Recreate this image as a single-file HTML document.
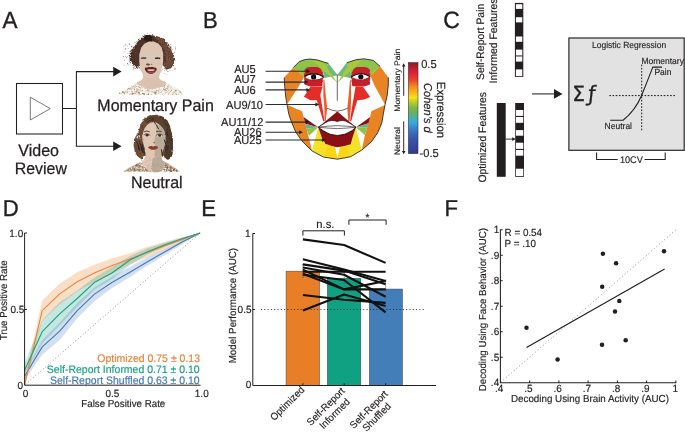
<!DOCTYPE html>
<html lang="en"><head><meta charset="utf-8"><title>Figure</title>
<style>
html,body{margin:0;padding:0;background:#fff;}
body{width:685px;height:432px;overflow:hidden;}
svg{display:block;}
svg text{font-family:"Liberation Sans",Arial,Helvetica,sans-serif;fill:#231f20;stroke:#231f20;stroke-width:0.016em;text-rendering:geometricPrecision;}
</style></head><body>
<svg width="685" height="432" viewBox="0 0 685 432">
<rect width="685" height="432" fill="#fff"/>
<!-- Panel A -->
<g id="panelA">
<text transform="translate(2.4 28.3) scale(1 1.04)" font-size="22.5">A</text>
<rect x="16.5" y="83.5" width="46" height="50.5" fill="#fff" stroke="#231f20" stroke-width="1.05"/>
<path d="M30.3 97.2 L50.3 108.6 L30.3 120 Z" fill="none" stroke="#414042" stroke-width="0.7"/>
<path d="M62.5 108.4 H76.4 M114 71.6 H76.4 V146.2 H114" fill="none" stroke="#231f20" stroke-width="1.05"/>
<path d="M113.2 66.8 L121.6 71.6 L113.2 76.4 Z M113.2 141.4 L121.6 146.2 L113.2 151 Z" fill="#231f20"/>
<text transform="translate(18.3 155.6) scale(1 1.04)" font-size="16">Video</text>
<text transform="translate(14.8 174.2) scale(1 1.04)" font-size="15.9">Review</text>
<text transform="translate(97.3 111) scale(1 1.04)" font-size="16">Momentary Pain</text>
<text transform="translate(131 187.6) scale(1 1.04)" font-size="16">Neutral</text>
</g>
<!-- faces -->
<g id="faces">
<defs>
<filter id="rough" x="-20%" y="-20%" width="140%" height="140%"><feTurbulence type="fractalNoise" baseFrequency="0.7" numOctaves="2" seed="4" result="n"/><feDisplacementMap in="SourceGraphic" in2="n" scale="4.5" xChannelSelector="R" yChannelSelector="G"/></filter>
<filter id="rough2" x="-20%" y="-20%" width="140%" height="140%"><feTurbulence type="fractalNoise" baseFrequency="0.5" numOctaves="2" seed="9" result="n"/><feDisplacementMap in="SourceGraphic" in2="n" scale="2.5" xChannelSelector="R" yChannelSelector="G"/></filter>
</defs>
<g id="painface">
<path d="M119.1 94.7 C119.5 94.1 119.5 93.1 121.1 91.8 C122.7 90.5 124.8 89.5 127.3 88.0 C129.8 86.5 131.3 85.5 133.4 84.4 C135.5 83.3 131.7 82.8 138.0 82.4 C144.3 82.0 158.7 82.0 165.1 82.4 C171.5 82.8 168.0 83.3 170.2 84.4 C172.4 85.5 174.1 86.5 176.3 88.0 C178.5 89.5 180.1 90.5 181.4 91.8 C182.7 93.1 182.4 94.1 182.6 94.7 Z" fill="#f4efe8" filter="url(#rough2)"/>
<g><circle cx="148.0" cy="89.5" r="0.57" fill="#c0a276"/>
<circle cx="148.0" cy="93.1" r="0.32" fill="#9b7a4e"/>
<circle cx="149.5" cy="90.1" r="0.32" fill="#c0a276"/>
<circle cx="138.7" cy="83.7" r="0.53" fill="#7d5c3c"/>
<circle cx="159.5" cy="89.9" r="0.39" fill="#c0a276"/>
<circle cx="160.7" cy="90.2" r="0.31" fill="#a58455"/>
<circle cx="121.8" cy="93.4" r="0.46" fill="#c0a276"/>
<circle cx="140.1" cy="89.9" r="0.32" fill="#b39368"/>
<circle cx="159.8" cy="88.7" r="0.48" fill="#c0a276"/>
<circle cx="160.8" cy="87.6" r="0.44" fill="#a58455"/>
<circle cx="164.1" cy="86.5" r="0.33" fill="#8c6a44"/>
<circle cx="137.9" cy="83.4" r="0.26" fill="#7d5c3c"/>
<circle cx="168.5" cy="85.9" r="0.28" fill="#8c6a44"/>
<circle cx="148.8" cy="88.6" r="0.49" fill="#b39368"/>
<circle cx="147.7" cy="84.9" r="0.51" fill="#b39368"/>
<circle cx="145.9" cy="87.3" r="0.39" fill="#b39368"/>
<circle cx="119.6" cy="93.2" r="0.59" fill="#9b7a4e"/>
<circle cx="138.7" cy="93.5" r="0.32" fill="#c0a276"/>
<circle cx="155.9" cy="83.1" r="0.30" fill="#c0a276"/>
<circle cx="135.8" cy="92.1" r="0.37" fill="#8c6a44"/>
<circle cx="143.9" cy="83.5" r="0.32" fill="#7d5c3c"/>
<circle cx="134.9" cy="90.0" r="0.38" fill="#c0a276"/>
<circle cx="127.6" cy="89.8" r="0.54" fill="#b39368"/>
<circle cx="129.3" cy="93.8" r="0.54" fill="#b39368"/>
<circle cx="165.2" cy="84.5" r="0.47" fill="#9b7a4e"/>
<circle cx="132.0" cy="94.3" r="0.56" fill="#9b7a4e"/>
<circle cx="135.6" cy="91.7" r="0.39" fill="#c0a276"/>
<circle cx="171.4" cy="89.9" r="0.35" fill="#b39368"/>
<circle cx="178.0" cy="94.6" r="0.29" fill="#c0a276"/>
<circle cx="154.8" cy="93.1" r="0.47" fill="#8c6a44"/>
<circle cx="132.9" cy="93.8" r="0.51" fill="#a58455"/>
<circle cx="136.5" cy="88.1" r="0.27" fill="#b39368"/>
<circle cx="137.3" cy="89.1" r="0.59" fill="#a58455"/>
<circle cx="142.4" cy="93.5" r="0.59" fill="#7d5c3c"/>
<circle cx="165.7" cy="89.0" r="0.58" fill="#9b7a4e"/>
<circle cx="176.8" cy="91.2" r="0.59" fill="#a58455"/>
<circle cx="157.2" cy="83.5" r="0.27" fill="#8c6a44"/>
<circle cx="139.6" cy="94.9" r="0.28" fill="#9b7a4e"/>
<circle cx="142.7" cy="83.1" r="0.58" fill="#7d5c3c"/>
<circle cx="163.8" cy="92.3" r="0.57" fill="#8c6a44"/>
<circle cx="124.5" cy="93.1" r="0.58" fill="#a58455"/>
<circle cx="173.9" cy="89.6" r="0.47" fill="#c0a276"/>
<circle cx="145.8" cy="86.7" r="0.58" fill="#7d5c3c"/>
<circle cx="156.1" cy="88.0" r="0.54" fill="#a58455"/>
<circle cx="152.2" cy="88.9" r="0.36" fill="#a58455"/>
<circle cx="149.8" cy="85.4" r="0.49" fill="#c0a276"/>
<circle cx="168.6" cy="90.7" r="0.42" fill="#a58455"/>
<circle cx="142.7" cy="84.4" r="0.46" fill="#9b7a4e"/>
<circle cx="130.3" cy="93.7" r="0.48" fill="#c0a276"/>
<circle cx="150.9" cy="85.6" r="0.39" fill="#8c6a44"/>
<circle cx="132.1" cy="87.9" r="0.53" fill="#b39368"/>
<circle cx="156.2" cy="86.5" r="0.30" fill="#c0a276"/>
<circle cx="141.6" cy="93.6" r="0.26" fill="#a58455"/>
<circle cx="130.2" cy="88.1" r="0.35" fill="#b39368"/>
<circle cx="171.8" cy="87.3" r="0.43" fill="#7d5c3c"/>
<circle cx="139.4" cy="92.9" r="0.59" fill="#c0a276"/>
<circle cx="139.7" cy="92.8" r="0.35" fill="#9b7a4e"/>
<circle cx="155.5" cy="86.4" r="0.53" fill="#a58455"/>
<circle cx="159.9" cy="87.6" r="0.32" fill="#8c6a44"/>
<circle cx="147.7" cy="90.3" r="0.48" fill="#8c6a44"/>
<circle cx="132.1" cy="88.4" r="0.31" fill="#a58455"/>
<circle cx="167.1" cy="89.2" r="0.26" fill="#b39368"/>
<circle cx="136.7" cy="86.8" r="0.49" fill="#9b7a4e"/>
<circle cx="151.0" cy="94.8" r="0.31" fill="#7d5c3c"/>
<circle cx="178.2" cy="91.5" r="0.30" fill="#c0a276"/>
<circle cx="132.0" cy="93.5" r="0.25" fill="#9b7a4e"/>
<circle cx="155.3" cy="93.4" r="0.53" fill="#8c6a44"/>
<circle cx="148.7" cy="90.6" r="0.32" fill="#7d5c3c"/>
<circle cx="174.0" cy="92.4" r="0.57" fill="#a58455"/>
<circle cx="133.0" cy="93.7" r="0.59" fill="#8c6a44"/>
<circle cx="153.3" cy="92.3" r="0.36" fill="#7d5c3c"/>
<circle cx="154.2" cy="92.0" r="0.42" fill="#a58455"/>
<circle cx="133.3" cy="93.3" r="0.40" fill="#a58455"/>
<circle cx="128.9" cy="88.9" r="0.50" fill="#7d5c3c"/>
<circle cx="162.9" cy="94.2" r="0.42" fill="#7d5c3c"/>
<circle cx="152.7" cy="86.2" r="0.51" fill="#7d5c3c"/>
<circle cx="129.9" cy="88.9" r="0.57" fill="#8c6a44"/>
<circle cx="139.2" cy="87.3" r="0.55" fill="#9b7a4e"/>
<circle cx="132.7" cy="93.1" r="0.59" fill="#9b7a4e"/>
<circle cx="136.8" cy="88.7" r="0.39" fill="#a58455"/>
<circle cx="151.2" cy="90.0" r="0.26" fill="#a58455"/>
<circle cx="152.0" cy="87.5" r="0.53" fill="#9b7a4e"/>
<circle cx="130.1" cy="94.0" r="0.41" fill="#c0a276"/>
<circle cx="136.5" cy="88.4" r="0.29" fill="#c0a276"/>
<circle cx="176.2" cy="94.1" r="0.57" fill="#9b7a4e"/>
<circle cx="139.5" cy="85.0" r="0.47" fill="#8c6a44"/>
<circle cx="127.7" cy="92.2" r="0.26" fill="#b39368"/>
<circle cx="137.5" cy="91.5" r="0.34" fill="#c0a276"/>
<circle cx="126.2" cy="91.6" r="0.29" fill="#9b7a4e"/>
<circle cx="158.8" cy="91.4" r="0.50" fill="#c0a276"/>
<circle cx="171.5" cy="90.2" r="0.44" fill="#7d5c3c"/>
<circle cx="153.2" cy="85.3" r="0.33" fill="#9b7a4e"/>
<circle cx="158.0" cy="93.1" r="0.33" fill="#7d5c3c"/>
<circle cx="159.1" cy="86.9" r="0.31" fill="#9b7a4e"/>
<circle cx="139.4" cy="93.9" r="0.33" fill="#b39368"/>
<circle cx="134.6" cy="91.5" r="0.34" fill="#a58455"/>
<circle cx="146.9" cy="94.2" r="0.44" fill="#7d5c3c"/>
<circle cx="132.2" cy="91.0" r="0.57" fill="#8c6a44"/>
<circle cx="167.2" cy="88.8" r="0.49" fill="#b39368"/>
<circle cx="170.1" cy="88.5" r="0.26" fill="#9b7a4e"/>
<circle cx="158.1" cy="93.7" r="0.42" fill="#b39368"/>
<circle cx="172.4" cy="94.8" r="0.57" fill="#a58455"/>
<circle cx="156.0" cy="84.3" r="0.49" fill="#a58455"/>
<circle cx="167.7" cy="86.6" r="0.41" fill="#9b7a4e"/>
<circle cx="141.9" cy="85.2" r="0.38" fill="#7d5c3c"/>
<circle cx="163.7" cy="93.0" r="0.31" fill="#c0a276"/>
<circle cx="142.2" cy="87.1" r="0.57" fill="#9b7a4e"/>
<circle cx="130.0" cy="88.9" r="0.26" fill="#a58455"/>
<circle cx="170.0" cy="91.3" r="0.55" fill="#7d5c3c"/>
<circle cx="131.6" cy="89.8" r="0.37" fill="#8c6a44"/>
<circle cx="137.2" cy="84.0" r="0.51" fill="#b39368"/>
<circle cx="170.8" cy="87.6" r="0.56" fill="#9b7a4e"/>
<circle cx="163.3" cy="92.0" r="0.52" fill="#c0a276"/>
<circle cx="169.7" cy="86.3" r="0.29" fill="#8c6a44"/>
<circle cx="181.9" cy="93.7" r="0.27" fill="#8c6a44"/>
<circle cx="179.0" cy="90.8" r="0.37" fill="#7d5c3c"/>
<circle cx="145.1" cy="84.8" r="0.28" fill="#9b7a4e"/>
<circle cx="163.7" cy="92.0" r="0.59" fill="#a58455"/>
<circle cx="134.5" cy="88.1" r="0.43" fill="#b39368"/>
<circle cx="135.8" cy="86.0" r="0.37" fill="#9b7a4e"/>
<circle cx="151.5" cy="94.5" r="0.45" fill="#a58455"/>
<circle cx="159.7" cy="92.5" r="0.28" fill="#9b7a4e"/>
<circle cx="161.6" cy="94.3" r="0.39" fill="#b39368"/>
<circle cx="143.9" cy="94.5" r="0.55" fill="#9b7a4e"/>
<circle cx="158.0" cy="83.3" r="0.58" fill="#c0a276"/>
<circle cx="137.5" cy="87.5" r="0.36" fill="#9b7a4e"/>
<circle cx="137.6" cy="90.6" r="0.45" fill="#8c6a44"/>
<circle cx="161.3" cy="91.8" r="0.26" fill="#b39368"/>
<circle cx="156.4" cy="90.4" r="0.39" fill="#7d5c3c"/>
<circle cx="144.1" cy="93.6" r="0.51" fill="#a58455"/>
<circle cx="156.2" cy="91.5" r="0.36" fill="#b39368"/>
<circle cx="146.6" cy="88.5" r="0.59" fill="#b39368"/>
<circle cx="170.5" cy="93.8" r="0.30" fill="#b39368"/>
<circle cx="157.5" cy="84.0" r="0.47" fill="#c0a276"/>
<circle cx="127.0" cy="93.2" r="0.37" fill="#b39368"/>
<circle cx="161.6" cy="88.2" r="0.34" fill="#9b7a4e"/>
<circle cx="162.5" cy="87.1" r="0.51" fill="#b39368"/>
<circle cx="179.5" cy="91.6" r="0.33" fill="#a58455"/>
<circle cx="151.2" cy="86.4" r="0.43" fill="#8c6a44"/>
<circle cx="136.9" cy="90.1" r="0.50" fill="#7d5c3c"/>
<circle cx="156.8" cy="90.4" r="0.51" fill="#b39368"/>
<circle cx="160.6" cy="85.0" r="0.49" fill="#7d5c3c"/>
<circle cx="146.3" cy="90.3" r="0.29" fill="#9b7a4e"/>
<circle cx="137.1" cy="91.9" r="0.57" fill="#b39368"/>
<circle cx="154.2" cy="90.4" r="0.38" fill="#c0a276"/>
<circle cx="141.9" cy="86.8" r="0.42" fill="#b39368"/>
<circle cx="127.1" cy="92.5" r="0.47" fill="#b39368"/>
<circle cx="147.5" cy="91.8" r="0.39" fill="#b39368"/>
<circle cx="142.8" cy="90.6" r="0.60" fill="#8c6a44"/>
<circle cx="137.9" cy="91.9" r="0.54" fill="#b39368"/>
<circle cx="146.5" cy="87.1" r="0.28" fill="#8c6a44"/>
<circle cx="155.1" cy="88.6" r="0.49" fill="#8c6a44"/>
<circle cx="139.1" cy="93.8" r="0.46" fill="#7d5c3c"/>
<circle cx="138.7" cy="91.5" r="0.49" fill="#8c6a44"/>
<circle cx="160.9" cy="86.6" r="0.57" fill="#8c6a44"/>
<circle cx="164.2" cy="89.6" r="0.57" fill="#7d5c3c"/>
<circle cx="170.1" cy="86.3" r="0.36" fill="#c0a276"/>
<circle cx="180.4" cy="91.6" r="0.43" fill="#a58455"/>
<circle cx="142.3" cy="87.1" r="0.38" fill="#c0a276"/>
<circle cx="156.4" cy="92.4" r="0.51" fill="#8c6a44"/>
<circle cx="169.7" cy="89.2" r="0.54" fill="#9b7a4e"/>
<circle cx="148.2" cy="93.1" r="0.53" fill="#b39368"/>
<circle cx="152.0" cy="89.3" r="0.45" fill="#a58455"/>
<circle cx="160.5" cy="92.5" r="0.27" fill="#9b7a4e"/>
<circle cx="138.8" cy="89.3" r="0.37" fill="#8c6a44"/>
<circle cx="165.9" cy="93.6" r="0.28" fill="#7d5c3c"/>
<circle cx="160.7" cy="83.8" r="0.54" fill="#c0a276"/>
<circle cx="135.0" cy="85.3" r="0.52" fill="#9b7a4e"/>
<circle cx="140.9" cy="88.2" r="0.37" fill="#8c6a44"/>
<circle cx="161.9" cy="88.7" r="0.44" fill="#7d5c3c"/>
<circle cx="122.5" cy="91.9" r="0.59" fill="#8c6a44"/>
<circle cx="173.2" cy="92.5" r="0.54" fill="#c0a276"/>
<circle cx="152.5" cy="91.3" r="0.53" fill="#c0a276"/>
<circle cx="177.6" cy="93.8" r="0.34" fill="#b39368"/>
<circle cx="146.3" cy="86.2" r="0.59" fill="#a58455"/>
<circle cx="149.2" cy="91.6" r="0.36" fill="#b39368"/>
<circle cx="156.3" cy="93.8" r="0.26" fill="#a58455"/>
<circle cx="132.0" cy="87.0" r="0.46" fill="#9b7a4e"/>
<circle cx="164.7" cy="89.9" r="0.33" fill="#b39368"/>
<circle cx="176.8" cy="94.1" r="0.47" fill="#9b7a4e"/>
<circle cx="149.7" cy="85.8" r="0.56" fill="#8c6a44"/>
<circle cx="161.1" cy="92.1" r="0.28" fill="#b39368"/>
<circle cx="144.7" cy="85.3" r="0.30" fill="#c0a276"/>
<circle cx="180.9" cy="92.4" r="0.52" fill="#a58455"/>
<circle cx="160.9" cy="85.5" r="0.25" fill="#c0a276"/>
<circle cx="135.1" cy="87.8" r="0.56" fill="#c0a276"/>
<circle cx="135.9" cy="93.3" r="0.43" fill="#7d5c3c"/>
<circle cx="166.2" cy="90.2" r="0.43" fill="#a58455"/>
<circle cx="129.1" cy="92.1" r="0.25" fill="#b39368"/>
<circle cx="136.6" cy="91.4" r="0.28" fill="#c0a276"/>
<circle cx="163.2" cy="83.6" r="0.51" fill="#9b7a4e"/>
<circle cx="169.2" cy="87.7" r="0.57" fill="#a58455"/>
<circle cx="168.7" cy="88.0" r="0.26" fill="#c0a276"/>
<circle cx="152.6" cy="84.5" r="0.54" fill="#8c6a44"/>
<circle cx="139.5" cy="87.6" r="0.44" fill="#c0a276"/>
<circle cx="161.5" cy="83.4" r="0.28" fill="#b39368"/>
<circle cx="148.6" cy="94.5" r="0.54" fill="#7d5c3c"/>
<circle cx="147.6" cy="93.2" r="0.50" fill="#c0a276"/>
<circle cx="134.5" cy="89.5" r="0.41" fill="#a58455"/>
<circle cx="173.4" cy="93.0" r="0.50" fill="#9b7a4e"/>
<circle cx="129.2" cy="90.3" r="0.58" fill="#7d5c3c"/>
<circle cx="138.3" cy="86.7" r="0.39" fill="#7d5c3c"/>
<circle cx="143.3" cy="83.9" r="0.36" fill="#8c6a44"/>
<circle cx="155.0" cy="91.5" r="0.37" fill="#c0a276"/>
<circle cx="125.5" cy="90.9" r="0.50" fill="#b39368"/>
<circle cx="148.7" cy="91.2" r="0.29" fill="#a58455"/>
<circle cx="145.2" cy="83.5" r="0.57" fill="#c0a276"/>
<circle cx="163.0" cy="88.5" r="0.57" fill="#9b7a4e"/>
<circle cx="163.6" cy="94.7" r="0.53" fill="#7d5c3c"/>
<circle cx="136.0" cy="84.9" r="0.36" fill="#c0a276"/>
<circle cx="151.6" cy="92.3" r="0.54" fill="#9b7a4e"/>
<circle cx="164.4" cy="85.7" r="0.44" fill="#8c6a44"/>
<circle cx="154.1" cy="86.9" r="0.43" fill="#b39368"/>
<circle cx="155.7" cy="85.0" r="0.58" fill="#7d5c3c"/>
<circle cx="164.0" cy="94.1" r="0.45" fill="#a58455"/>
<circle cx="159.0" cy="85.0" r="0.28" fill="#b39368"/>
<circle cx="149.6" cy="87.7" r="0.37" fill="#a58455"/>
<circle cx="148.7" cy="84.1" r="0.59" fill="#b39368"/>
<circle cx="134.6" cy="89.6" r="0.44" fill="#a58455"/>
<circle cx="154.8" cy="85.8" r="0.57" fill="#8c6a44"/>
<circle cx="157.4" cy="84.1" r="0.54" fill="#8c6a44"/>
<circle cx="162.7" cy="87.1" r="0.52" fill="#8c6a44"/>
<circle cx="154.0" cy="83.5" r="0.26" fill="#b39368"/>
<circle cx="168.8" cy="94.0" r="0.60" fill="#b39368"/>
<circle cx="138.9" cy="90.8" r="0.51" fill="#c0a276"/>
<circle cx="158.3" cy="90.5" r="0.52" fill="#b39368"/>
<circle cx="132.1" cy="88.4" r="0.30" fill="#c0a276"/>
<circle cx="140.7" cy="84.2" r="0.34" fill="#8c6a44"/>
<circle cx="123.0" cy="92.2" r="0.50" fill="#b39368"/>
<circle cx="144.9" cy="88.7" r="0.29" fill="#8c6a44"/>
<circle cx="145.5" cy="90.3" r="0.49" fill="#c0a276"/>
<circle cx="166.8" cy="88.6" r="0.60" fill="#7d5c3c"/>
<circle cx="145.3" cy="87.9" r="0.45" fill="#9b7a4e"/>
<circle cx="140.4" cy="89.0" r="0.40" fill="#a58455"/>
<circle cx="139.8" cy="83.3" r="0.50" fill="#c0a276"/>
<circle cx="165.6" cy="89.9" r="0.51" fill="#8c6a44"/>
<circle cx="175.1" cy="93.4" r="0.34" fill="#c0a276"/>
<circle cx="134.8" cy="93.3" r="0.59" fill="#c0a276"/>
<circle cx="163.3" cy="89.1" r="0.33" fill="#8c6a44"/>
<circle cx="160.9" cy="94.1" r="0.56" fill="#7d5c3c"/>
<circle cx="166.5" cy="89.6" r="0.57" fill="#a58455"/>
<circle cx="152.3" cy="84.2" r="0.56" fill="#9b7a4e"/>
<circle cx="134.9" cy="86.3" r="0.36" fill="#a58455"/>
<circle cx="147.3" cy="88.1" r="0.44" fill="#b39368"/>
<circle cx="142.0" cy="89.8" r="0.27" fill="#a58455"/>
<circle cx="148.2" cy="86.5" r="0.36" fill="#b39368"/>
<circle cx="178.3" cy="94.6" r="0.42" fill="#b39368"/>
<circle cx="132.3" cy="93.2" r="0.49" fill="#a58455"/>
<circle cx="131.9" cy="92.9" r="0.37" fill="#c0a276"/>
<circle cx="163.5" cy="89.5" r="0.44" fill="#b39368"/>
<circle cx="131.6" cy="93.4" r="0.27" fill="#a58455"/>
<circle cx="138.8" cy="92.6" r="0.59" fill="#8c6a44"/>
<circle cx="174.2" cy="91.4" r="0.30" fill="#7d5c3c"/>
<circle cx="179.7" cy="92.2" r="0.40" fill="#b39368"/>
<circle cx="133.6" cy="86.4" r="0.50" fill="#b39368"/>
<circle cx="136.5" cy="91.4" r="0.43" fill="#8c6a44"/>
<circle cx="169.3" cy="87.2" r="0.48" fill="#a58455"/>
<circle cx="156.7" cy="85.4" r="0.36" fill="#b39368"/>
<circle cx="161.5" cy="86.0" r="0.47" fill="#a58455"/>
<circle cx="148.7" cy="83.5" r="0.57" fill="#a58455"/>
<circle cx="153.0" cy="83.2" r="0.46" fill="#8c6a44"/>
<circle cx="153.4" cy="87.8" r="0.45" fill="#b39368"/>
<circle cx="137.5" cy="91.9" r="0.34" fill="#8c6a44"/>
<circle cx="176.0" cy="90.2" r="0.57" fill="#9b7a4e"/>
<circle cx="143.8" cy="94.0" r="0.42" fill="#b39368"/>
<circle cx="123.6" cy="92.1" r="0.57" fill="#8c6a44"/>
<circle cx="161.0" cy="92.2" r="0.43" fill="#9b7a4e"/>
<circle cx="171.6" cy="90.4" r="0.59" fill="#7d5c3c"/>
<circle cx="157.8" cy="85.5" r="0.40" fill="#8c6a44"/>
<circle cx="169.0" cy="92.3" r="0.33" fill="#c0a276"/>
<circle cx="153.8" cy="93.1" r="0.46" fill="#8c6a44"/>
<circle cx="164.5" cy="89.6" r="0.56" fill="#b39368"/>
<circle cx="140.0" cy="90.1" r="0.46" fill="#c0a276"/>
<circle cx="151.3" cy="91.5" r="0.55" fill="#a58455"/>
<circle cx="124.2" cy="93.7" r="0.45" fill="#9b7a4e"/>
<circle cx="156.0" cy="91.5" r="0.47" fill="#a58455"/>
<circle cx="139.1" cy="83.1" r="0.36" fill="#9b7a4e"/>
<circle cx="166.0" cy="92.2" r="0.52" fill="#c0a276"/>
<circle cx="125.2" cy="92.7" r="0.31" fill="#8c6a44"/>
<circle cx="135.2" cy="88.7" r="0.48" fill="#9b7a4e"/>
<circle cx="145.4" cy="87.1" r="0.33" fill="#a58455"/>
<circle cx="127.7" cy="91.9" r="0.46" fill="#b39368"/>
<circle cx="128.7" cy="88.2" r="0.51" fill="#a58455"/>
<circle cx="152.6" cy="83.7" r="0.44" fill="#c0a276"/>
<circle cx="146.3" cy="83.5" r="0.26" fill="#7d5c3c"/>
<circle cx="167.6" cy="91.6" r="0.33" fill="#8c6a44"/>
<circle cx="127.1" cy="93.1" r="0.40" fill="#a58455"/>
<circle cx="140.8" cy="94.7" r="0.46" fill="#a58455"/>
<circle cx="129.7" cy="89.8" r="0.60" fill="#7d5c3c"/>
<circle cx="141.2" cy="91.1" r="0.55" fill="#9b7a4e"/>
<circle cx="173.6" cy="94.1" r="0.32" fill="#c0a276"/>
<circle cx="168.7" cy="85.2" r="0.37" fill="#b39368"/>
<circle cx="169.5" cy="92.5" r="0.42" fill="#c0a276"/>
<circle cx="133.1" cy="88.3" r="0.36" fill="#c0a276"/>
<circle cx="150.4" cy="90.3" r="0.31" fill="#c0a276"/>
<circle cx="132.5" cy="87.3" r="0.28" fill="#7d5c3c"/>
<circle cx="137.0" cy="94.3" r="0.47" fill="#9b7a4e"/>
<circle cx="144.3" cy="93.9" r="0.50" fill="#8c6a44"/>
<circle cx="165.4" cy="92.1" r="0.30" fill="#b39368"/>
<circle cx="165.1" cy="93.7" r="0.26" fill="#8c6a44"/>
<circle cx="172.3" cy="88.1" r="0.55" fill="#c0a276"/>
<circle cx="140.0" cy="92.1" r="0.43" fill="#a58455"/>
<circle cx="138.6" cy="90.1" r="0.42" fill="#b39368"/>
<circle cx="129.1" cy="89.9" r="0.26" fill="#8c6a44"/>
<circle cx="145.4" cy="88.5" r="0.49" fill="#9b7a4e"/>
<circle cx="164.0" cy="85.8" r="0.50" fill="#7d5c3c"/>
<circle cx="143.3" cy="93.4" r="0.54" fill="#9b7a4e"/>
<circle cx="164.4" cy="87.6" r="0.39" fill="#8c6a44"/>
<circle cx="133.8" cy="86.2" r="0.37" fill="#b39368"/>
<circle cx="128.4" cy="93.0" r="0.51" fill="#c0a276"/>
<circle cx="155.2" cy="92.5" r="0.59" fill="#8c6a44"/>
<circle cx="161.1" cy="83.4" r="0.55" fill="#9b7a4e"/>
<circle cx="162.9" cy="90.8" r="0.58" fill="#8c6a44"/>
<circle cx="134.3" cy="90.4" r="0.28" fill="#c0a276"/>
<circle cx="150.4" cy="94.0" r="0.35" fill="#7d5c3c"/>
<circle cx="137.2" cy="84.5" r="0.39" fill="#c0a276"/>
<circle cx="167.9" cy="86.9" r="0.50" fill="#9b7a4e"/>
<circle cx="146.1" cy="84.5" r="0.45" fill="#7d5c3c"/>
<circle cx="177.1" cy="93.7" r="0.29" fill="#a58455"/>
<circle cx="143.3" cy="93.0" r="0.35" fill="#7d5c3c"/>
<circle cx="140.1" cy="85.7" r="0.26" fill="#8c6a44"/>
<circle cx="139.9" cy="87.2" r="0.35" fill="#7d5c3c"/>
<circle cx="175.3" cy="90.5" r="0.38" fill="#8c6a44"/>
<circle cx="155.8" cy="94.2" r="0.52" fill="#7d5c3c"/>
<circle cx="158.1" cy="83.4" r="0.27" fill="#c0a276"/>
<circle cx="128.1" cy="88.8" r="0.36" fill="#8c6a44"/>
<circle cx="157.6" cy="85.9" r="0.34" fill="#b39368"/>
<circle cx="153.8" cy="87.4" r="0.33" fill="#c0a276"/>
<circle cx="173.0" cy="92.0" r="0.28" fill="#9b7a4e"/>
<circle cx="175.2" cy="91.1" r="0.53" fill="#8c6a44"/></g>
<g><circle cx="141.4" cy="93.5" r="0.56" fill="#ffffff"/>
<circle cx="163.3" cy="91.0" r="0.88" fill="#ffffff"/>
<circle cx="129.6" cy="90.2" r="0.65" fill="#fdfbf8"/>
<circle cx="142.8" cy="86.1" r="0.77" fill="#fdfbf8"/>
<circle cx="134.5" cy="85.7" r="0.56" fill="#ffffff"/>
<circle cx="177.3" cy="91.7" r="0.84" fill="#ffffff"/>
<circle cx="171.0" cy="93.5" r="0.56" fill="#fdfbf8"/>
<circle cx="151.8" cy="90.9" r="0.42" fill="#fdfbf8"/>
<circle cx="135.6" cy="88.8" r="0.80" fill="#fdfbf8"/>
<circle cx="135.5" cy="90.4" r="0.58" fill="#fdfbf8"/>
<circle cx="131.1" cy="93.1" r="0.50" fill="#ffffff"/>
<circle cx="155.3" cy="87.8" r="0.75" fill="#fdfbf8"/>
<circle cx="143.3" cy="90.8" r="0.52" fill="#ffffff"/>
<circle cx="163.2" cy="92.3" r="0.86" fill="#fdfbf8"/>
<circle cx="162.8" cy="87.8" r="0.72" fill="#fdfbf8"/>
<circle cx="143.9" cy="90.9" r="0.47" fill="#ffffff"/>
<circle cx="164.4" cy="84.1" r="0.42" fill="#fdfbf8"/>
<circle cx="142.0" cy="89.2" r="0.80" fill="#fdfbf8"/>
<circle cx="153.7" cy="88.5" r="0.59" fill="#fdfbf8"/>
<circle cx="147.2" cy="93.3" r="0.72" fill="#ffffff"/>
<circle cx="144.2" cy="90.2" r="0.78" fill="#fdfbf8"/>
<circle cx="162.0" cy="85.3" r="0.54" fill="#ffffff"/>
<circle cx="147.4" cy="92.8" r="0.68" fill="#fdfbf8"/>
<circle cx="129.1" cy="93.5" r="0.54" fill="#ffffff"/>
<circle cx="136.8" cy="87.5" r="0.56" fill="#ffffff"/>
<circle cx="149.9" cy="87.1" r="0.53" fill="#ffffff"/>
<circle cx="167.4" cy="90.8" r="0.40" fill="#fdfbf8"/>
<circle cx="150.0" cy="94.8" r="0.50" fill="#fdfbf8"/>
<circle cx="150.0" cy="87.7" r="0.80" fill="#fdfbf8"/>
<circle cx="154.6" cy="85.2" r="0.71" fill="#fdfbf8"/>
<circle cx="137.0" cy="94.1" r="0.83" fill="#fdfbf8"/>
<circle cx="155.5" cy="94.2" r="0.42" fill="#ffffff"/>
<circle cx="162.0" cy="85.9" r="0.41" fill="#fdfbf8"/>
<circle cx="142.5" cy="92.0" r="0.53" fill="#ffffff"/>
<circle cx="169.4" cy="91.6" r="0.60" fill="#ffffff"/>
<circle cx="172.4" cy="87.6" r="0.85" fill="#ffffff"/>
<circle cx="139.9" cy="91.5" r="0.65" fill="#fdfbf8"/>
<circle cx="170.6" cy="87.1" r="0.72" fill="#fdfbf8"/>
<circle cx="139.2" cy="83.4" r="0.73" fill="#ffffff"/>
<circle cx="136.2" cy="85.2" r="0.49" fill="#ffffff"/>
<circle cx="166.3" cy="89.3" r="0.74" fill="#ffffff"/>
<circle cx="141.4" cy="84.5" r="0.59" fill="#ffffff"/>
<circle cx="151.2" cy="87.6" r="0.56" fill="#ffffff"/>
<circle cx="156.0" cy="86.6" r="0.64" fill="#ffffff"/>
<circle cx="151.0" cy="92.2" r="0.84" fill="#fdfbf8"/>
<circle cx="177.5" cy="93.4" r="0.79" fill="#ffffff"/>
<circle cx="128.9" cy="90.4" r="0.59" fill="#ffffff"/>
<circle cx="132.9" cy="90.2" r="0.84" fill="#fdfbf8"/>
<circle cx="151.3" cy="89.6" r="0.46" fill="#fdfbf8"/>
<circle cx="147.0" cy="88.3" r="0.82" fill="#ffffff"/>
<circle cx="143.2" cy="89.2" r="0.42" fill="#ffffff"/>
<circle cx="152.8" cy="88.1" r="0.54" fill="#ffffff"/>
<circle cx="157.0" cy="94.0" r="0.48" fill="#fdfbf8"/>
<circle cx="140.2" cy="85.7" r="0.71" fill="#ffffff"/>
<circle cx="165.9" cy="94.8" r="0.60" fill="#ffffff"/>
<circle cx="166.9" cy="93.6" r="0.46" fill="#ffffff"/>
<circle cx="172.4" cy="90.6" r="0.87" fill="#ffffff"/>
<circle cx="169.7" cy="88.9" r="0.90" fill="#ffffff"/>
<circle cx="141.1" cy="89.0" r="0.57" fill="#ffffff"/>
<circle cx="153.3" cy="93.2" r="0.50" fill="#fdfbf8"/>
<circle cx="167.2" cy="93.4" r="0.44" fill="#fdfbf8"/>
<circle cx="173.3" cy="92.1" r="0.67" fill="#ffffff"/>
<circle cx="142.6" cy="83.8" r="0.42" fill="#fdfbf8"/>
<circle cx="137.7" cy="87.7" r="0.71" fill="#ffffff"/>
<circle cx="173.0" cy="90.2" r="0.85" fill="#ffffff"/>
<circle cx="125.1" cy="90.6" r="0.67" fill="#fdfbf8"/>
<circle cx="174.7" cy="91.5" r="0.50" fill="#fdfbf8"/>
<circle cx="143.4" cy="92.6" r="0.75" fill="#fdfbf8"/>
<circle cx="161.0" cy="85.2" r="0.50" fill="#ffffff"/>
<circle cx="130.4" cy="89.7" r="0.42" fill="#fdfbf8"/>
<circle cx="126.9" cy="94.2" r="0.71" fill="#fdfbf8"/>
<circle cx="164.7" cy="93.3" r="0.78" fill="#ffffff"/>
<circle cx="128.8" cy="90.4" r="0.61" fill="#fdfbf8"/>
<circle cx="137.1" cy="84.2" r="0.46" fill="#ffffff"/>
<circle cx="141.4" cy="91.2" r="0.52" fill="#ffffff"/>
<circle cx="137.5" cy="93.3" r="0.54" fill="#ffffff"/>
<circle cx="162.1" cy="88.2" r="0.87" fill="#fdfbf8"/>
<circle cx="132.1" cy="87.7" r="0.51" fill="#ffffff"/>
<circle cx="142.7" cy="86.7" r="0.69" fill="#fdfbf8"/>
<circle cx="138.0" cy="91.1" r="0.74" fill="#ffffff"/>
<circle cx="156.9" cy="93.2" r="0.59" fill="#fdfbf8"/>
<circle cx="141.1" cy="92.7" r="0.83" fill="#ffffff"/>
<circle cx="153.9" cy="83.8" r="0.85" fill="#ffffff"/>
<circle cx="163.4" cy="94.8" r="0.81" fill="#ffffff"/>
<circle cx="161.6" cy="84.5" r="0.44" fill="#ffffff"/>
<circle cx="148.8" cy="86.5" r="0.74" fill="#ffffff"/>
<circle cx="180.6" cy="94.6" r="0.90" fill="#fdfbf8"/>
<circle cx="146.8" cy="85.4" r="0.67" fill="#ffffff"/>
<circle cx="148.6" cy="87.5" r="0.73" fill="#ffffff"/>
<circle cx="152.1" cy="89.8" r="0.65" fill="#ffffff"/>
<circle cx="152.0" cy="83.8" r="0.80" fill="#ffffff"/>
<circle cx="130.1" cy="90.6" r="0.71" fill="#fdfbf8"/>
<circle cx="161.3" cy="94.5" r="0.64" fill="#ffffff"/>
<circle cx="146.8" cy="84.5" r="0.59" fill="#fdfbf8"/>
<circle cx="179.0" cy="93.6" r="0.41" fill="#fdfbf8"/>
<circle cx="145.6" cy="89.5" r="0.89" fill="#ffffff"/>
<circle cx="138.6" cy="88.8" r="0.46" fill="#ffffff"/>
<circle cx="151.8" cy="86.2" r="0.79" fill="#ffffff"/>
<circle cx="156.7" cy="88.3" r="0.89" fill="#fdfbf8"/>
<circle cx="128.2" cy="93.6" r="0.80" fill="#ffffff"/>
<circle cx="128.6" cy="89.5" r="0.49" fill="#ffffff"/>
<circle cx="129.3" cy="92.7" r="0.77" fill="#fdfbf8"/>
<circle cx="129.4" cy="89.1" r="0.41" fill="#ffffff"/>
<circle cx="150.6" cy="93.8" r="0.67" fill="#ffffff"/>
<circle cx="144.1" cy="86.3" r="0.51" fill="#ffffff"/>
<circle cx="160.9" cy="87.8" r="0.85" fill="#ffffff"/>
<circle cx="160.7" cy="93.5" r="0.87" fill="#ffffff"/>
<circle cx="144.4" cy="86.3" r="0.77" fill="#fdfbf8"/>
<circle cx="169.4" cy="87.3" r="0.72" fill="#fdfbf8"/>
<circle cx="147.9" cy="83.2" r="0.82" fill="#ffffff"/></g>
<g filter="url(#rough)"><path d="M144.2 35.7 C146.7 34.1 145.0 34.9 147.3 34.7 C149.6 34.5 148.1 34.7 151.2 35.2 C154.3 35.7 153.0 35.2 156.5 36.2 C160.0 37.2 158.5 36.3 161.7 38.1 C164.9 39.9 163.2 38.5 166.0 41.7 C168.8 44.9 167.7 43.3 170.0 47.7 C172.3 52.1 171.6 50.5 172.9 55.0 C174.2 59.5 174.3 57.4 174.0 61.2 C173.7 65.0 173.8 64.0 172.1 66.5 C170.4 69.0 171.4 68.0 169.0 68.8 C166.6 69.6 167.1 69.9 164.8 68.8 C162.5 67.7 170.2 66.5 162.2 65.4 C154.2 64.3 148.4 64.5 140.8 65.4 C133.2 66.3 141.0 67.5 139.3 68.0 C137.6 68.5 138.2 68.7 135.6 67.0 C133.0 65.3 133.5 66.1 131.5 62.8 C129.5 59.5 129.6 61.1 129.6 57.1 C129.6 53.1 129.5 55.0 131.5 50.8 C133.5 46.6 132.8 48.4 135.6 44.6 C138.4 40.8 136.9 42.4 139.8 39.4 C142.7 36.4 141.7 37.3 144.2 35.7 Z" fill="#50332a"/>
<path d="M154.4 36.5 C155.1 35.2 157.9 36.6 161.7 38.5 C165.5 40.4 163.1 39.1 165.8 42.3 C168.5 45.5 167.5 44.0 169.8 48.2 C172.1 52.4 171.4 50.7 172.6 55.0 C173.8 59.3 173.6 57.6 173.3 61.2 C173.0 64.8 173.2 63.7 171.6 65.9 C170.0 68.1 170.7 67.9 168.4 67.7 C166.1 67.5 165.7 68.9 164.8 65.4 C163.9 61.9 166.1 62.6 165.8 57.1 C165.5 51.6 165.9 53.7 163.8 48.8 C161.7 43.9 162.7 46.6 159.6 42.5 C156.5 38.4 153.7 37.8 154.4 36.5 Z" fill="#6d4b39"/></g>
<path d="M144.2 36.5 C144.8 34.8 145.0 35.4 147.3 35.2 C149.6 35.0 149.5 34.6 151.2 35.8 C152.9 37.0 152.8 37.0 152.3 38.9 C151.8 40.8 152.0 41.0 149.7 41.5 C147.4 42.0 147.3 42.1 145.5 40.4 C143.7 38.7 143.6 38.2 144.2 36.5 Z" fill="#2b1e18" filter="url(#rough2)"/>
<g><circle cx="124.8" cy="51.9" r="0.31" fill="#6e4d38"/>
<circle cx="130.2" cy="59.1" r="0.23" fill="#4a3123"/>
<circle cx="128.2" cy="48.6" r="0.43" fill="#8a6a55"/>
<circle cx="130.8" cy="51.7" r="0.39" fill="#5b3d2b"/>
<circle cx="123.2" cy="56.5" r="0.49" fill="#4a3123"/>
<circle cx="133.2" cy="58.7" r="0.46" fill="#6e4d38"/>
<circle cx="129.5" cy="56.4" r="0.31" fill="#8a6a55"/>
<circle cx="124.4" cy="60.1" r="0.32" fill="#5b3d2b"/>
<circle cx="125.3" cy="56.4" r="0.45" fill="#8a6a55"/>
<circle cx="129.9" cy="51.7" r="0.25" fill="#5b3d2b"/>
<circle cx="124.0" cy="65.1" r="0.45" fill="#4a3123"/>
<circle cx="123.5" cy="46.8" r="0.26" fill="#4a3123"/>
<circle cx="129.8" cy="44.8" r="0.43" fill="#5b3d2b"/>
<circle cx="127.2" cy="45.4" r="0.26" fill="#4a3123"/>
<circle cx="129.8" cy="44.0" r="0.48" fill="#6e4d38"/>
<circle cx="129.2" cy="43.7" r="0.43" fill="#8a6a55"/>
<circle cx="126.6" cy="57.2" r="0.48" fill="#5b3d2b"/>
<circle cx="124.9" cy="45.4" r="0.41" fill="#6e4d38"/>
<circle cx="127.1" cy="53.3" r="0.34" fill="#5b3d2b"/>
<circle cx="127.8" cy="63.2" r="0.42" fill="#5b3d2b"/>
<circle cx="133.1" cy="51.3" r="0.45" fill="#5b3d2b"/>
<circle cx="130.4" cy="52.2" r="0.41" fill="#5b3d2b"/>
<circle cx="132.7" cy="48.2" r="0.34" fill="#6e4d38"/>
<circle cx="131.9" cy="46.2" r="0.46" fill="#8a6a55"/>
<circle cx="127.4" cy="63.2" r="0.48" fill="#6e4d38"/>
<circle cx="130.1" cy="63.8" r="0.36" fill="#8a6a55"/>
<circle cx="128.5" cy="54.1" r="0.37" fill="#6e4d38"/>
<circle cx="131.2" cy="50.6" r="0.22" fill="#6e4d38"/>
<circle cx="129.9" cy="51.8" r="0.44" fill="#8a6a55"/>
<circle cx="127.8" cy="56.4" r="0.35" fill="#6e4d38"/>
<circle cx="128.1" cy="65.0" r="0.31" fill="#8a6a55"/>
<circle cx="125.6" cy="49.3" r="0.42" fill="#5b3d2b"/>
<circle cx="125.8" cy="44.9" r="0.45" fill="#8a6a55"/>
<circle cx="125.7" cy="48.2" r="0.47" fill="#5b3d2b"/>
<circle cx="129.0" cy="64.9" r="0.47" fill="#8a6a55"/>
<circle cx="127.2" cy="46.1" r="0.27" fill="#5b3d2b"/>
<circle cx="130.2" cy="54.5" r="0.26" fill="#4a3123"/>
<circle cx="129.0" cy="55.6" r="0.31" fill="#6e4d38"/>
<circle cx="127.8" cy="64.8" r="0.32" fill="#4a3123"/>
<circle cx="124.1" cy="60.7" r="0.28" fill="#6e4d38"/>
<circle cx="132.1" cy="59.7" r="0.32" fill="#6e4d38"/>
<circle cx="131.1" cy="56.3" r="0.47" fill="#4a3123"/>
<circle cx="130.3" cy="51.5" r="0.49" fill="#4a3123"/>
<circle cx="129.5" cy="61.7" r="0.49" fill="#5b3d2b"/>
<circle cx="125.7" cy="44.0" r="0.37" fill="#4a3123"/></g>
<g><circle cx="174.2" cy="52.5" r="0.38" fill="#7a5540"/>
<circle cx="173.3" cy="52.2" r="0.30" fill="#7a5540"/>
<circle cx="175.5" cy="49.3" r="0.33" fill="#8a6a55"/>
<circle cx="175.0" cy="60.2" r="0.37" fill="#8a6a55"/>
<circle cx="171.8" cy="63.6" r="0.42" fill="#8a6a55"/>
<circle cx="174.7" cy="51.9" r="0.24" fill="#7a5540"/>
<circle cx="174.1" cy="58.6" r="0.35" fill="#8a6a55"/>
<circle cx="172.8" cy="63.1" r="0.48" fill="#8a6a55"/>
<circle cx="172.3" cy="63.0" r="0.47" fill="#6e4d38"/>
<circle cx="175.5" cy="48.3" r="0.48" fill="#8a6a55"/>
<circle cx="174.5" cy="52.9" r="0.22" fill="#8a6a55"/>
<circle cx="175.5" cy="50.3" r="0.32" fill="#7a5540"/>
<circle cx="175.1" cy="47.1" r="0.41" fill="#6e4d38"/>
<circle cx="171.7" cy="55.5" r="0.26" fill="#8a6a55"/>
<circle cx="175.6" cy="69.0" r="0.48" fill="#8a6a55"/>
<circle cx="171.4" cy="58.3" r="0.27" fill="#8a6a55"/>
<circle cx="174.3" cy="60.3" r="0.48" fill="#8a6a55"/>
<circle cx="171.5" cy="49.0" r="0.27" fill="#8a6a55"/>
<circle cx="173.3" cy="59.0" r="0.49" fill="#8a6a55"/>
<circle cx="171.5" cy="67.2" r="0.29" fill="#6e4d38"/>
<circle cx="174.3" cy="68.1" r="0.49" fill="#6e4d38"/>
<circle cx="175.1" cy="68.0" r="0.23" fill="#7a5540"/>
<circle cx="174.8" cy="69.5" r="0.38" fill="#8a6a55"/>
<circle cx="172.5" cy="49.7" r="0.44" fill="#6e4d38"/>
<circle cx="175.5" cy="46.4" r="0.25" fill="#7a5540"/></g>
<g><circle cx="171.6" cy="67.7" r="0.23" fill="#6e4d38"/>
<circle cx="168.5" cy="71.3" r="0.35" fill="#6e4d38"/>
<circle cx="160.6" cy="68.0" r="0.40" fill="#7a5540"/>
<circle cx="170.2" cy="70.5" r="0.30" fill="#7a5540"/>
<circle cx="165.1" cy="74.1" r="0.28" fill="#6e4d38"/>
<circle cx="167.3" cy="71.3" r="0.30" fill="#7a5540"/>
<circle cx="165.8" cy="69.2" r="0.42" fill="#6e4d38"/>
<circle cx="162.9" cy="69.0" r="0.32" fill="#6e4d38"/>
<circle cx="169.6" cy="69.9" r="0.27" fill="#7a5540"/>
<circle cx="167.4" cy="71.7" r="0.35" fill="#6e4d38"/>
<circle cx="162.7" cy="69.2" r="0.29" fill="#7a5540"/>
<circle cx="169.1" cy="69.0" r="0.23" fill="#6e4d38"/>
<circle cx="166.8" cy="68.1" r="0.40" fill="#6e4d38"/>
<circle cx="165.7" cy="67.8" r="0.35" fill="#6e4d38"/>
<circle cx="164.9" cy="70.1" r="0.43" fill="#7a5540"/>
<circle cx="172.1" cy="70.6" r="0.37" fill="#6e4d38"/>
<circle cx="164.5" cy="73.3" r="0.31" fill="#7a5540"/>
<circle cx="167.1" cy="74.4" r="0.24" fill="#6e4d38"/></g>
<g><circle cx="132.9" cy="65.6" r="0.44" fill="#6e4d38"/>
<circle cx="140.1" cy="66.1" r="0.27" fill="#6e4d38"/>
<circle cx="140.5" cy="69.8" r="0.30" fill="#5b3d2b"/>
<circle cx="133.7" cy="68.8" r="0.44" fill="#5b3d2b"/>
<circle cx="134.5" cy="68.7" r="0.27" fill="#6e4d38"/>
<circle cx="135.6" cy="68.8" r="0.43" fill="#5b3d2b"/>
<circle cx="140.3" cy="65.8" r="0.26" fill="#6e4d38"/>
<circle cx="138.1" cy="66.0" r="0.29" fill="#5b3d2b"/>
<circle cx="134.8" cy="67.9" r="0.41" fill="#6e4d38"/>
<circle cx="138.9" cy="67.9" r="0.44" fill="#5b3d2b"/>
<circle cx="137.9" cy="65.5" r="0.43" fill="#5b3d2b"/>
<circle cx="133.8" cy="67.0" r="0.35" fill="#6e4d38"/></g>
<g><circle cx="163.2" cy="63.5" r="0.43" fill="#5b3d2b"/>
<circle cx="165.4" cy="62.1" r="0.39" fill="#4a3123"/>
<circle cx="166.7" cy="50.7" r="0.43" fill="#4a3123"/>
<circle cx="165.5" cy="40.1" r="0.26" fill="#5b3d2b"/>
<circle cx="165.7" cy="48.7" r="0.39" fill="#5b3d2b"/>
<circle cx="164.9" cy="55.6" r="0.38" fill="#94705a"/>
<circle cx="163.3" cy="57.4" r="0.44" fill="#4a3123"/>
<circle cx="171.4" cy="47.2" r="0.42" fill="#94705a"/>
<circle cx="166.9" cy="48.1" r="0.42" fill="#94705a"/>
<circle cx="168.0" cy="60.8" r="0.45" fill="#4a3123"/>
<circle cx="166.5" cy="49.6" r="0.40" fill="#94705a"/>
<circle cx="164.2" cy="39.7" r="0.33" fill="#4a3123"/>
<circle cx="168.9" cy="45.5" r="0.52" fill="#4a3123"/>
<circle cx="171.6" cy="52.1" r="0.39" fill="#5b3d2b"/>
<circle cx="163.5" cy="64.4" r="0.44" fill="#94705a"/>
<circle cx="171.1" cy="57.6" r="0.49" fill="#5b3d2b"/>
<circle cx="169.1" cy="60.9" r="0.30" fill="#94705a"/>
<circle cx="163.7" cy="48.0" r="0.49" fill="#94705a"/>
<circle cx="171.4" cy="56.5" r="0.27" fill="#4a3123"/>
<circle cx="170.3" cy="47.1" r="0.31" fill="#5b3d2b"/>
<circle cx="172.3" cy="55.9" r="0.29" fill="#4a3123"/>
<circle cx="163.4" cy="64.3" r="0.32" fill="#5b3d2b"/>
<circle cx="163.5" cy="65.9" r="0.32" fill="#4a3123"/>
<circle cx="167.0" cy="52.8" r="0.34" fill="#5b3d2b"/>
<circle cx="164.1" cy="54.7" r="0.34" fill="#94705a"/>
<circle cx="168.5" cy="47.7" r="0.33" fill="#94705a"/>
<circle cx="168.2" cy="53.1" r="0.34" fill="#5b3d2b"/>
<circle cx="171.7" cy="56.3" r="0.37" fill="#94705a"/>
<circle cx="163.5" cy="65.0" r="0.43" fill="#94705a"/>
<circle cx="172.6" cy="53.2" r="0.31" fill="#4a3123"/>
<circle cx="165.6" cy="43.5" r="0.54" fill="#5b3d2b"/>
<circle cx="163.5" cy="60.4" r="0.32" fill="#4a3123"/>
<circle cx="166.8" cy="55.6" r="0.26" fill="#4a3123"/>
<circle cx="167.9" cy="58.9" r="0.44" fill="#4a3123"/>
<circle cx="163.2" cy="54.9" r="0.34" fill="#4a3123"/>
<circle cx="169.6" cy="58.6" r="0.42" fill="#94705a"/>
<circle cx="166.5" cy="44.1" r="0.38" fill="#4a3123"/>
<circle cx="165.7" cy="49.9" r="0.34" fill="#4a3123"/>
<circle cx="170.4" cy="51.1" r="0.36" fill="#94705a"/>
<circle cx="165.4" cy="55.2" r="0.55" fill="#94705a"/>
<circle cx="168.3" cy="45.6" r="0.43" fill="#4a3123"/>
<circle cx="170.1" cy="46.8" r="0.54" fill="#94705a"/>
<circle cx="167.4" cy="59.8" r="0.47" fill="#94705a"/>
<circle cx="164.6" cy="53.6" r="0.55" fill="#4a3123"/>
<circle cx="168.1" cy="54.8" r="0.49" fill="#4a3123"/>
<circle cx="164.0" cy="52.3" r="0.30" fill="#94705a"/>
<circle cx="166.5" cy="46.5" r="0.49" fill="#94705a"/>
<circle cx="166.7" cy="41.1" r="0.26" fill="#94705a"/>
<circle cx="164.8" cy="65.1" r="0.36" fill="#4a3123"/>
<circle cx="167.0" cy="57.7" r="0.50" fill="#94705a"/>
<circle cx="167.2" cy="42.5" r="0.42" fill="#4a3123"/>
<circle cx="164.2" cy="49.5" r="0.37" fill="#5b3d2b"/>
<circle cx="165.8" cy="61.8" r="0.43" fill="#4a3123"/>
<circle cx="167.8" cy="45.8" r="0.40" fill="#4a3123"/>
<circle cx="166.5" cy="46.5" r="0.35" fill="#5b3d2b"/>
<circle cx="167.1" cy="47.8" r="0.51" fill="#4a3123"/>
<circle cx="169.8" cy="58.1" r="0.26" fill="#5b3d2b"/>
<circle cx="165.7" cy="42.6" r="0.54" fill="#5b3d2b"/>
<circle cx="165.2" cy="59.8" r="0.39" fill="#5b3d2b"/>
<circle cx="170.3" cy="44.7" r="0.36" fill="#4a3123"/>
<circle cx="163.4" cy="57.1" r="0.51" fill="#4a3123"/>
<circle cx="168.4" cy="57.5" r="0.53" fill="#4a3123"/>
<circle cx="165.3" cy="62.6" r="0.27" fill="#4a3123"/>
<circle cx="165.6" cy="53.9" r="0.26" fill="#4a3123"/>
<circle cx="167.1" cy="47.4" r="0.39" fill="#5b3d2b"/>
<circle cx="171.2" cy="46.8" r="0.25" fill="#5b3d2b"/>
<circle cx="169.8" cy="51.5" r="0.40" fill="#5b3d2b"/>
<circle cx="164.3" cy="63.1" r="0.51" fill="#94705a"/>
<circle cx="167.0" cy="52.4" r="0.37" fill="#94705a"/>
<circle cx="169.8" cy="46.3" r="0.34" fill="#94705a"/>
<circle cx="165.7" cy="46.4" r="0.31" fill="#94705a"/>
<circle cx="167.0" cy="59.3" r="0.39" fill="#94705a"/>
<circle cx="163.5" cy="44.7" r="0.42" fill="#4a3123"/>
<circle cx="172.1" cy="53.6" r="0.40" fill="#5b3d2b"/>
<circle cx="164.1" cy="41.5" r="0.51" fill="#94705a"/>
<circle cx="167.4" cy="59.4" r="0.38" fill="#94705a"/>
<circle cx="165.2" cy="53.7" r="0.27" fill="#4a3123"/>
<circle cx="171.4" cy="56.7" r="0.49" fill="#4a3123"/>
<circle cx="171.2" cy="55.3" r="0.32" fill="#5b3d2b"/>
<circle cx="164.6" cy="41.2" r="0.44" fill="#5b3d2b"/>
<circle cx="167.4" cy="60.6" r="0.44" fill="#4a3123"/>
<circle cx="170.5" cy="56.5" r="0.55" fill="#5b3d2b"/>
<circle cx="170.8" cy="59.2" r="0.35" fill="#4a3123"/>
<circle cx="165.6" cy="64.6" r="0.26" fill="#5b3d2b"/>
<circle cx="166.6" cy="56.0" r="0.36" fill="#5b3d2b"/>
<circle cx="163.4" cy="40.0" r="0.40" fill="#94705a"/>
<circle cx="165.5" cy="54.0" r="0.37" fill="#4a3123"/>
<circle cx="166.4" cy="56.5" r="0.44" fill="#94705a"/>
<circle cx="162.9" cy="62.1" r="0.44" fill="#4a3123"/>
<circle cx="168.2" cy="58.7" r="0.27" fill="#4a3123"/>
<circle cx="170.4" cy="49.0" r="0.28" fill="#4a3123"/>
<circle cx="165.2" cy="44.8" r="0.30" fill="#94705a"/>
<circle cx="166.0" cy="43.1" r="0.30" fill="#94705a"/>
<circle cx="169.9" cy="46.5" r="0.34" fill="#4a3123"/>
<circle cx="166.1" cy="56.0" r="0.51" fill="#5b3d2b"/>
<circle cx="170.2" cy="48.5" r="0.43" fill="#5b3d2b"/>
<circle cx="164.7" cy="42.0" r="0.48" fill="#4a3123"/>
<circle cx="166.6" cy="62.6" r="0.26" fill="#4a3123"/>
<circle cx="172.4" cy="56.3" r="0.27" fill="#4a3123"/>
<circle cx="169.0" cy="43.3" r="0.39" fill="#94705a"/>
<circle cx="171.4" cy="50.2" r="0.35" fill="#94705a"/>
<circle cx="168.6" cy="53.5" r="0.44" fill="#4a3123"/>
<circle cx="166.9" cy="50.2" r="0.50" fill="#4a3123"/>
<circle cx="164.8" cy="57.3" r="0.54" fill="#4a3123"/>
<circle cx="162.7" cy="61.9" r="0.53" fill="#4a3123"/>
<circle cx="164.1" cy="41.9" r="0.43" fill="#5b3d2b"/>
<circle cx="171.1" cy="48.8" r="0.44" fill="#5b3d2b"/>
<circle cx="170.5" cy="53.9" r="0.42" fill="#4a3123"/>
<circle cx="165.9" cy="51.5" r="0.25" fill="#94705a"/>
<circle cx="169.9" cy="51.9" r="0.52" fill="#4a3123"/></g>
<g><circle cx="136.8" cy="41.9" r="0.28" fill="#2f1f17"/>
<circle cx="135.0" cy="42.8" r="0.49" fill="#2f1f17"/>
<circle cx="134.0" cy="51.8" r="0.38" fill="#6e4d38"/>
<circle cx="135.3" cy="63.4" r="0.37" fill="#6e4d38"/>
<circle cx="138.9" cy="61.8" r="0.27" fill="#3a251c"/>
<circle cx="131.0" cy="50.4" r="0.27" fill="#2f1f17"/>
<circle cx="137.5" cy="42.9" r="0.31" fill="#3a251c"/>
<circle cx="136.0" cy="47.8" r="0.34" fill="#3a251c"/>
<circle cx="139.5" cy="40.5" r="0.29" fill="#3a251c"/>
<circle cx="131.2" cy="57.3" r="0.30" fill="#6e4d38"/>
<circle cx="139.2" cy="51.0" r="0.27" fill="#2f1f17"/>
<circle cx="130.9" cy="56.7" r="0.37" fill="#3a251c"/>
<circle cx="140.8" cy="63.2" r="0.29" fill="#6e4d38"/>
<circle cx="133.0" cy="56.5" r="0.27" fill="#3a251c"/>
<circle cx="134.4" cy="58.5" r="0.48" fill="#3a251c"/>
<circle cx="140.6" cy="46.4" r="0.46" fill="#2f1f17"/>
<circle cx="133.5" cy="54.2" r="0.33" fill="#3a251c"/>
<circle cx="137.9" cy="47.0" r="0.31" fill="#2f1f17"/>
<circle cx="135.7" cy="57.8" r="0.43" fill="#6e4d38"/>
<circle cx="131.2" cy="53.2" r="0.31" fill="#3a251c"/>
<circle cx="140.7" cy="52.8" r="0.41" fill="#6e4d38"/>
<circle cx="133.2" cy="55.6" r="0.31" fill="#3a251c"/>
<circle cx="139.2" cy="55.4" r="0.40" fill="#2f1f17"/>
<circle cx="140.3" cy="60.0" r="0.36" fill="#3a251c"/>
<circle cx="138.5" cy="49.8" r="0.35" fill="#6e4d38"/>
<circle cx="132.0" cy="46.7" r="0.37" fill="#2f1f17"/>
<circle cx="138.9" cy="61.5" r="0.35" fill="#2f1f17"/>
<circle cx="131.0" cy="50.0" r="0.39" fill="#3a251c"/>
<circle cx="141.9" cy="48.0" r="0.34" fill="#3a251c"/>
<circle cx="139.2" cy="64.9" r="0.38" fill="#2f1f17"/>
<circle cx="131.5" cy="46.8" r="0.44" fill="#3a251c"/>
<circle cx="139.2" cy="64.0" r="0.45" fill="#6e4d38"/>
<circle cx="140.5" cy="48.1" r="0.37" fill="#3a251c"/>
<circle cx="138.4" cy="60.5" r="0.33" fill="#3a251c"/>
<circle cx="130.6" cy="50.9" r="0.27" fill="#2f1f17"/>
<circle cx="138.0" cy="40.8" r="0.36" fill="#2f1f17"/>
<circle cx="136.5" cy="48.4" r="0.38" fill="#6e4d38"/>
<circle cx="131.5" cy="54.3" r="0.27" fill="#3a251c"/>
<circle cx="132.7" cy="55.8" r="0.32" fill="#6e4d38"/>
<circle cx="137.6" cy="62.8" r="0.49" fill="#6e4d38"/>
<circle cx="138.5" cy="52.2" r="0.44" fill="#2f1f17"/>
<circle cx="131.9" cy="53.4" r="0.47" fill="#2f1f17"/>
<circle cx="139.7" cy="62.8" r="0.40" fill="#6e4d38"/>
<circle cx="135.9" cy="52.1" r="0.39" fill="#6e4d38"/>
<circle cx="138.3" cy="55.7" r="0.28" fill="#6e4d38"/>
<circle cx="140.5" cy="40.4" r="0.39" fill="#3a251c"/>
<circle cx="141.7" cy="45.7" r="0.34" fill="#2f1f17"/>
<circle cx="140.0" cy="55.2" r="0.42" fill="#6e4d38"/>
<circle cx="134.5" cy="56.8" r="0.36" fill="#3a251c"/>
<circle cx="133.6" cy="57.3" r="0.28" fill="#3a251c"/></g>
<path d="M142.1 69.1 C146.2 68.1 155.9 67.8 160.0 69.1 C164.1 70.4 159.8 72.6 159.6 74.7 C159.4 76.8 158.5 76.7 159.1 78.1 C159.7 79.5 160.4 79.5 162.0 80.6 C163.6 81.7 166.3 81.4 166.1 82.8 C165.9 84.2 164.6 85.0 161.0 86.5 C157.4 88.0 155.1 89.2 150.8 89.2 C146.5 89.2 145.8 88.1 142.6 86.7 C139.4 85.3 137.5 84.4 137.0 83.0 C136.5 81.6 139.1 81.9 140.5 80.6 C141.9 79.3 142.7 79.2 143.1 77.5 C143.5 75.8 142.6 75.2 142.4 73.2 C142.2 71.2 138.0 70.1 142.1 69.1 Z" fill="#dbc2b0"/>
<path d="M151.2 41.7 C154.2 41.7 152.9 41.2 155.9 42.5 C158.9 43.8 157.9 42.8 160.1 45.6 C162.3 48.4 161.5 46.6 162.5 50.8 C163.5 55.0 163.2 53.2 163.2 58.1 C163.2 63.0 163.4 60.9 162.5 65.4 C161.6 69.9 162.4 68.0 160.4 71.7 C158.4 75.4 159.6 74.3 156.5 76.4 C153.4 78.5 154.7 77.9 151.2 77.9 C147.7 77.9 149.0 78.5 146.0 76.4 C143.0 74.3 144.1 75.4 142.1 71.7 C140.1 68.0 140.9 69.9 140.0 65.4 C139.1 60.9 139.2 63.0 139.3 58.1 C139.4 53.2 139.1 55.0 140.3 50.8 C141.5 46.6 140.7 48.4 142.9 45.6 C145.1 42.8 144.1 43.8 146.9 42.5 C149.7 41.2 148.2 41.7 151.2 41.7 Z" fill="#dec6b5"/>
<path d="M142.4 54.2 C143.1 53.8 144.9 54.3 147.1 54.8 C149.3 55.3 148.6 56.0 150.7 56.0 C152.8 56.0 152.5 55.2 154.9 54.8 C157.3 54.4 159.7 54.0 159.8 54.6 C159.9 55.2 157.5 55.4 155.4 56.9 C153.3 58.4 153.3 59.1 151.8 60.2 C150.3 61.3 150.7 61.8 149.7 61.2 C148.7 60.6 149.5 59.4 148.1 58.1 C146.7 56.8 146.0 57.2 144.5 56.2 C143.0 55.2 141.7 54.6 142.4 54.2 Z" fill="#d3cbbb"/>
<path d="M141.1 58.3 L143.8 57.8 L146.2 58.2 M154.9 58.3 L157.5 58.0 L160.2 58.5" stroke="#3e322e" stroke-width="1.3" fill="none"/>
<path d="M146.2 64.0 C146.5 63.4 146.6 63.4 147.7 63.4 C148.8 63.4 149.0 63.5 149.6 64.1 C150.2 64.7 150.3 64.8 149.4 65.2 C148.5 65.6 148.0 65.6 146.9 65.2 C145.8 64.8 145.9 64.6 146.2 64.0 Z" fill="#64483c"/>
<path d="M150.8 64.2 C150.9 63.9 151.3 63.8 151.9 63.9 C152.5 64.0 152.6 64.2 152.5 64.5 C152.4 64.8 152.1 65.0 151.5 64.9 C150.9 64.8 150.7 64.5 150.8 64.2 Z" fill="#8a6a5a"/>
<path d="M145.0 68.3 C145.5 67.1 145.4 67.8 147.3 67.4 C149.2 67.0 148.4 67.1 150.8 67.1 C153.2 67.1 152.5 67.0 154.4 67.4 C156.3 67.8 156.0 67.2 156.5 68.4 C157.0 69.6 156.8 69.4 155.8 71.0 C154.8 72.6 155.2 72.1 153.5 73.1 C151.8 74.1 152.6 73.9 150.8 73.9 C149.0 73.9 149.8 74.1 148.1 73.1 C146.4 72.1 146.8 72.6 145.8 71.0 C144.8 69.4 144.5 69.5 145.0 68.3 Z" fill="#65201f"/>
<path d="M147.9 69.5 C148.8 69.0 148.6 69.2 150.8 69.2 C153.0 69.2 153.3 69.1 154.4 69.6 C155.5 70.1 155.2 70.3 154.1 70.8 C153.0 71.3 153.0 71.1 151.0 71.1 C149.0 71.1 149.2 71.3 148.2 70.8 C147.2 70.3 147.0 70.0 147.9 69.5 Z" fill="#cbc3c1"/>
<path d="M147.7 71.7 C148.5 71.2 148.7 71.6 151.0 71.6 C153.3 71.6 153.8 71.2 154.6 71.7 C155.4 72.2 154.6 72.5 153.3 73.2 C152.0 73.9 152.4 73.8 150.8 73.8 C149.2 73.8 149.5 73.9 148.5 73.2 C147.5 72.5 146.9 72.2 147.7 71.7 Z" fill="#94504f"/>
</g>
<g id="neutralface">
<path d="M124.0 171.4 C124.9 170.7 126.0 169.4 128.3 168.0 C130.6 166.6 132.8 165.6 135.4 164.4 C138.0 163.2 135.4 162.7 141.1 162.2 C146.8 161.7 158.3 161.3 164.1 161.9 C169.9 162.5 167.8 163.6 170.2 165.0 C172.6 166.4 174.4 167.5 176.3 168.7 C178.2 169.9 179.2 170.7 179.9 171.2 Z" fill="#cbb59d" filter="url(#rough2)"/>
<g><circle cx="157.3" cy="167.3" r="0.48" fill="#a38262"/>
<circle cx="124.9" cy="171.3" r="0.59" fill="#a38262"/>
<circle cx="159.0" cy="166.5" r="0.52" fill="#a38262"/>
<circle cx="134.4" cy="169.1" r="0.58" fill="#94705a"/>
<circle cx="173.9" cy="170.6" r="0.46" fill="#8f6d50"/>
<circle cx="140.3" cy="170.0" r="0.48" fill="#6a4a33"/>
<circle cx="148.6" cy="166.3" r="0.45" fill="#6a4a33"/>
<circle cx="168.1" cy="166.7" r="0.63" fill="#6a4a33"/>
<circle cx="133.1" cy="166.9" r="0.49" fill="#7a573d"/>
<circle cx="154.8" cy="170.4" r="0.53" fill="#8f6d50"/>
<circle cx="142.0" cy="165.5" r="0.40" fill="#8f6d50"/>
<circle cx="158.5" cy="165.2" r="0.35" fill="#6a4a33"/>
<circle cx="137.3" cy="168.8" r="0.57" fill="#7a573d"/>
<circle cx="135.6" cy="165.6" r="0.45" fill="#7a573d"/>
<circle cx="165.0" cy="164.8" r="0.45" fill="#6a4a33"/>
<circle cx="177.7" cy="170.8" r="0.30" fill="#6a4a33"/>
<circle cx="157.6" cy="171.0" r="0.63" fill="#8f6d50"/>
<circle cx="149.8" cy="170.5" r="0.31" fill="#94705a"/>
<circle cx="161.9" cy="163.9" r="0.61" fill="#94705a"/>
<circle cx="174.6" cy="169.6" r="0.43" fill="#7a573d"/>
<circle cx="157.2" cy="169.7" r="0.31" fill="#8f6d50"/>
<circle cx="146.8" cy="167.6" r="0.44" fill="#a38262"/>
<circle cx="147.3" cy="167.1" r="0.43" fill="#94705a"/>
<circle cx="154.1" cy="165.5" r="0.45" fill="#7a573d"/>
<circle cx="143.1" cy="166.6" r="0.42" fill="#6a4a33"/>
<circle cx="137.7" cy="169.6" r="0.50" fill="#7a573d"/>
<circle cx="144.4" cy="166.2" r="0.47" fill="#7a573d"/>
<circle cx="147.6" cy="165.8" r="0.59" fill="#a38262"/>
<circle cx="139.4" cy="165.7" r="0.64" fill="#8f6d50"/>
<circle cx="161.6" cy="166.3" r="0.48" fill="#94705a"/>
<circle cx="170.4" cy="166.8" r="0.65" fill="#7a573d"/>
<circle cx="170.3" cy="169.8" r="0.48" fill="#94705a"/>
<circle cx="150.7" cy="165.5" r="0.63" fill="#8f6d50"/>
<circle cx="173.7" cy="169.1" r="0.32" fill="#6a4a33"/>
<circle cx="169.5" cy="166.1" r="0.40" fill="#a38262"/>
<circle cx="172.8" cy="169.3" r="0.38" fill="#7a573d"/>
<circle cx="147.1" cy="166.3" r="0.62" fill="#94705a"/>
<circle cx="143.2" cy="163.0" r="0.61" fill="#a38262"/>
<circle cx="139.7" cy="168.3" r="0.32" fill="#6a4a33"/>
<circle cx="145.7" cy="166.8" r="0.47" fill="#8f6d50"/>
<circle cx="157.3" cy="170.8" r="0.62" fill="#94705a"/>
<circle cx="149.8" cy="168.0" r="0.50" fill="#6a4a33"/>
<circle cx="160.6" cy="164.8" r="0.52" fill="#8f6d50"/>
<circle cx="164.7" cy="169.9" r="0.30" fill="#8f6d50"/>
<circle cx="129.1" cy="170.2" r="0.48" fill="#a38262"/>
<circle cx="177.6" cy="171.1" r="0.55" fill="#a38262"/>
<circle cx="174.4" cy="169.2" r="0.63" fill="#94705a"/>
<circle cx="160.9" cy="165.0" r="0.52" fill="#8f6d50"/>
<circle cx="138.8" cy="170.9" r="0.34" fill="#7a573d"/>
<circle cx="176.6" cy="170.7" r="0.59" fill="#6a4a33"/>
<circle cx="155.7" cy="162.7" r="0.55" fill="#7a573d"/>
<circle cx="164.7" cy="166.6" r="0.61" fill="#a38262"/>
<circle cx="142.0" cy="166.1" r="0.30" fill="#7a573d"/>
<circle cx="166.3" cy="165.6" r="0.54" fill="#a38262"/>
<circle cx="150.0" cy="163.9" r="0.45" fill="#94705a"/>
<circle cx="163.8" cy="163.5" r="0.65" fill="#8f6d50"/>
<circle cx="157.0" cy="163.2" r="0.58" fill="#94705a"/>
<circle cx="159.7" cy="165.3" r="0.65" fill="#94705a"/>
<circle cx="157.9" cy="169.6" r="0.64" fill="#a38262"/>
<circle cx="158.3" cy="168.0" r="0.60" fill="#94705a"/>
<circle cx="144.7" cy="162.6" r="0.52" fill="#6a4a33"/>
<circle cx="158.9" cy="171.3" r="0.50" fill="#7a573d"/>
<circle cx="166.9" cy="171.3" r="0.45" fill="#a38262"/>
<circle cx="163.4" cy="167.2" r="0.62" fill="#7a573d"/>
<circle cx="139.7" cy="168.5" r="0.32" fill="#6a4a33"/>
<circle cx="165.4" cy="169.0" r="0.31" fill="#94705a"/>
<circle cx="147.8" cy="169.5" r="0.41" fill="#8f6d50"/>
<circle cx="156.2" cy="164.8" r="0.40" fill="#94705a"/>
<circle cx="141.2" cy="170.4" r="0.39" fill="#a38262"/>
<circle cx="171.4" cy="167.7" r="0.54" fill="#6a4a33"/>
<circle cx="140.3" cy="169.7" r="0.56" fill="#94705a"/>
<circle cx="145.3" cy="165.3" r="0.37" fill="#7a573d"/>
<circle cx="170.6" cy="171.3" r="0.57" fill="#8f6d50"/>
<circle cx="148.7" cy="166.4" r="0.42" fill="#6a4a33"/>
<circle cx="152.6" cy="164.5" r="0.64" fill="#a38262"/>
<circle cx="169.6" cy="168.9" r="0.29" fill="#7a573d"/>
<circle cx="136.6" cy="164.8" r="0.50" fill="#6a4a33"/>
<circle cx="171.0" cy="171.2" r="0.49" fill="#8f6d50"/>
<circle cx="173.3" cy="170.7" r="0.37" fill="#6a4a33"/>
<circle cx="163.9" cy="167.0" r="0.28" fill="#8f6d50"/>
<circle cx="128.0" cy="170.3" r="0.58" fill="#a38262"/>
<circle cx="149.2" cy="164.5" r="0.52" fill="#7a573d"/>
<circle cx="131.1" cy="168.8" r="0.54" fill="#6a4a33"/>
<circle cx="164.0" cy="169.9" r="0.33" fill="#94705a"/>
<circle cx="153.5" cy="164.6" r="0.39" fill="#6a4a33"/>
<circle cx="143.8" cy="169.2" r="0.42" fill="#8f6d50"/>
<circle cx="129.7" cy="171.3" r="0.57" fill="#a38262"/>
<circle cx="158.7" cy="171.0" r="0.39" fill="#8f6d50"/>
<circle cx="156.5" cy="165.9" r="0.48" fill="#6a4a33"/>
<circle cx="141.5" cy="163.8" r="0.44" fill="#a38262"/>
<circle cx="163.1" cy="164.2" r="0.53" fill="#8f6d50"/>
<circle cx="177.6" cy="170.6" r="0.62" fill="#94705a"/>
<circle cx="151.6" cy="169.7" r="0.59" fill="#8f6d50"/>
<circle cx="127.0" cy="170.3" r="0.41" fill="#7a573d"/>
<circle cx="144.4" cy="164.8" r="0.33" fill="#7a573d"/>
<circle cx="146.2" cy="169.4" r="0.28" fill="#94705a"/>
<circle cx="145.2" cy="164.3" r="0.45" fill="#8f6d50"/>
<circle cx="162.7" cy="164.1" r="0.35" fill="#a38262"/>
<circle cx="143.5" cy="170.1" r="0.48" fill="#7a573d"/>
<circle cx="175.8" cy="170.0" r="0.61" fill="#a38262"/>
<circle cx="155.4" cy="171.4" r="0.37" fill="#a38262"/>
<circle cx="129.3" cy="169.6" r="0.50" fill="#a38262"/>
<circle cx="147.5" cy="171.0" r="0.29" fill="#6a4a33"/>
<circle cx="132.0" cy="167.6" r="0.52" fill="#94705a"/>
<circle cx="162.0" cy="169.6" r="0.46" fill="#8f6d50"/>
<circle cx="170.4" cy="169.8" r="0.58" fill="#8f6d50"/>
<circle cx="142.0" cy="163.9" r="0.44" fill="#a38262"/>
<circle cx="150.6" cy="171.3" r="0.39" fill="#a38262"/>
<circle cx="166.7" cy="171.1" r="0.39" fill="#8f6d50"/>
<circle cx="173.0" cy="170.7" r="0.38" fill="#94705a"/>
<circle cx="154.9" cy="171.3" r="0.61" fill="#94705a"/>
<circle cx="152.4" cy="163.4" r="0.49" fill="#7a573d"/>
<circle cx="144.7" cy="171.3" r="0.56" fill="#a38262"/>
<circle cx="169.4" cy="168.9" r="0.60" fill="#a38262"/>
<circle cx="152.3" cy="169.5" r="0.63" fill="#7a573d"/>
<circle cx="155.9" cy="165.8" r="0.33" fill="#a38262"/>
<circle cx="164.1" cy="163.3" r="0.47" fill="#a38262"/>
<circle cx="149.0" cy="168.4" r="0.58" fill="#94705a"/>
<circle cx="156.7" cy="168.1" r="0.51" fill="#7a573d"/>
<circle cx="130.0" cy="169.0" r="0.33" fill="#7a573d"/>
<circle cx="155.3" cy="165.8" r="0.62" fill="#8f6d50"/>
<circle cx="150.4" cy="164.0" r="0.43" fill="#7a573d"/>
<circle cx="168.9" cy="170.2" r="0.34" fill="#7a573d"/>
<circle cx="143.9" cy="165.2" r="0.35" fill="#8f6d50"/>
<circle cx="174.6" cy="169.0" r="0.38" fill="#94705a"/>
<circle cx="155.4" cy="164.5" r="0.35" fill="#8f6d50"/>
<circle cx="138.8" cy="168.1" r="0.39" fill="#7a573d"/>
<circle cx="166.9" cy="167.5" r="0.37" fill="#7a573d"/>
<circle cx="130.2" cy="169.3" r="0.33" fill="#a38262"/>
<circle cx="139.6" cy="165.4" r="0.63" fill="#8f6d50"/>
<circle cx="157.7" cy="170.8" r="0.51" fill="#94705a"/>
<circle cx="158.4" cy="162.9" r="0.50" fill="#6a4a33"/>
<circle cx="138.2" cy="168.0" r="0.60" fill="#8f6d50"/>
<circle cx="161.1" cy="164.3" r="0.32" fill="#8f6d50"/>
<circle cx="171.0" cy="167.1" r="0.47" fill="#94705a"/>
<circle cx="134.1" cy="169.4" r="0.50" fill="#6a4a33"/>
<circle cx="173.2" cy="170.9" r="0.39" fill="#94705a"/>
<circle cx="146.4" cy="170.7" r="0.45" fill="#94705a"/>
<circle cx="139.9" cy="163.9" r="0.35" fill="#7a573d"/>
<circle cx="134.5" cy="168.7" r="0.50" fill="#94705a"/>
<circle cx="168.2" cy="169.4" r="0.45" fill="#8f6d50"/>
<circle cx="140.9" cy="166.4" r="0.53" fill="#8f6d50"/>
<circle cx="139.4" cy="169.1" r="0.36" fill="#6a4a33"/>
<circle cx="145.1" cy="166.1" r="0.55" fill="#94705a"/>
<circle cx="134.8" cy="171.0" r="0.64" fill="#a38262"/>
<circle cx="153.1" cy="165.2" r="0.34" fill="#a38262"/>
<circle cx="157.0" cy="168.8" r="0.51" fill="#a38262"/>
<circle cx="170.5" cy="168.3" r="0.41" fill="#94705a"/>
<circle cx="139.4" cy="170.1" r="0.48" fill="#7a573d"/>
<circle cx="148.1" cy="171.1" r="0.46" fill="#8f6d50"/>
<circle cx="146.1" cy="167.8" r="0.39" fill="#7a573d"/>
<circle cx="163.6" cy="163.6" r="0.47" fill="#6a4a33"/>
<circle cx="129.6" cy="170.1" r="0.28" fill="#8f6d50"/>
<circle cx="159.6" cy="166.3" r="0.34" fill="#6a4a33"/>
<circle cx="144.9" cy="164.7" r="0.57" fill="#94705a"/>
<circle cx="154.2" cy="166.4" r="0.48" fill="#94705a"/>
<circle cx="157.5" cy="165.0" r="0.63" fill="#94705a"/>
<circle cx="162.0" cy="165.2" r="0.47" fill="#94705a"/>
<circle cx="151.4" cy="164.7" r="0.34" fill="#8f6d50"/>
<circle cx="143.8" cy="170.4" r="0.45" fill="#a38262"/>
<circle cx="159.4" cy="170.8" r="0.35" fill="#94705a"/>
<circle cx="143.0" cy="164.4" r="0.54" fill="#a38262"/>
<circle cx="151.9" cy="171.3" r="0.50" fill="#94705a"/>
<circle cx="139.2" cy="170.2" r="0.44" fill="#a38262"/>
<circle cx="147.8" cy="163.3" r="0.62" fill="#a38262"/>
<circle cx="155.4" cy="170.9" r="0.55" fill="#7a573d"/>
<circle cx="144.2" cy="163.1" r="0.47" fill="#6a4a33"/>
<circle cx="149.9" cy="171.0" r="0.40" fill="#7a573d"/>
<circle cx="146.1" cy="166.4" r="0.58" fill="#94705a"/>
<circle cx="160.1" cy="170.0" r="0.50" fill="#7a573d"/>
<circle cx="161.5" cy="164.2" r="0.42" fill="#a38262"/>
<circle cx="164.1" cy="165.9" r="0.44" fill="#8f6d50"/>
<circle cx="135.7" cy="166.6" r="0.58" fill="#6a4a33"/>
<circle cx="158.3" cy="162.5" r="0.40" fill="#a38262"/>
<circle cx="162.3" cy="164.1" r="0.53" fill="#94705a"/>
<circle cx="139.1" cy="170.3" r="0.29" fill="#8f6d50"/>
<circle cx="152.6" cy="163.7" r="0.31" fill="#7a573d"/>
<circle cx="173.5" cy="169.5" r="0.50" fill="#6a4a33"/>
<circle cx="132.8" cy="168.4" r="0.65" fill="#94705a"/>
<circle cx="137.4" cy="168.7" r="0.35" fill="#a38262"/>
<circle cx="134.8" cy="167.3" r="0.39" fill="#6a4a33"/>
<circle cx="148.4" cy="169.7" r="0.63" fill="#a38262"/>
<circle cx="146.9" cy="169.3" r="0.40" fill="#a38262"/>
<circle cx="142.0" cy="166.9" r="0.41" fill="#a38262"/>
<circle cx="136.7" cy="165.3" r="0.57" fill="#6a4a33"/>
<circle cx="152.7" cy="163.4" r="0.55" fill="#6a4a33"/>
<circle cx="142.2" cy="166.9" r="0.54" fill="#94705a"/>
<circle cx="148.0" cy="169.4" r="0.48" fill="#7a573d"/>
<circle cx="151.6" cy="167.7" r="0.56" fill="#a38262"/>
<circle cx="165.1" cy="163.5" r="0.51" fill="#7a573d"/>
<circle cx="146.3" cy="170.0" r="0.56" fill="#8f6d50"/>
<circle cx="174.3" cy="171.1" r="0.42" fill="#7a573d"/>
<circle cx="166.5" cy="166.7" r="0.34" fill="#94705a"/>
<circle cx="137.5" cy="169.3" r="0.56" fill="#8f6d50"/>
<circle cx="155.9" cy="163.7" r="0.47" fill="#8f6d50"/>
<circle cx="153.4" cy="167.6" r="0.45" fill="#94705a"/>
<circle cx="156.3" cy="166.5" r="0.45" fill="#94705a"/>
<circle cx="144.7" cy="163.9" r="0.31" fill="#94705a"/>
<circle cx="153.6" cy="167.5" r="0.31" fill="#6a4a33"/>
<circle cx="138.3" cy="167.8" r="0.48" fill="#94705a"/>
<circle cx="144.0" cy="170.5" r="0.34" fill="#7a573d"/>
<circle cx="141.9" cy="166.2" r="0.44" fill="#7a573d"/>
<circle cx="166.7" cy="169.6" r="0.55" fill="#a38262"/>
<circle cx="149.2" cy="166.2" r="0.52" fill="#6a4a33"/>
<circle cx="137.4" cy="169.5" r="0.44" fill="#6a4a33"/>
<circle cx="150.7" cy="170.9" r="0.33" fill="#7a573d"/>
<circle cx="169.7" cy="169.8" r="0.35" fill="#94705a"/>
<circle cx="174.1" cy="169.1" r="0.36" fill="#6a4a33"/>
<circle cx="161.1" cy="163.3" r="0.37" fill="#7a573d"/>
<circle cx="160.6" cy="167.5" r="0.46" fill="#a38262"/>
<circle cx="164.2" cy="167.3" r="0.60" fill="#8f6d50"/>
<circle cx="153.2" cy="169.0" r="0.30" fill="#6a4a33"/>
<circle cx="161.8" cy="162.4" r="0.63" fill="#a38262"/>
<circle cx="137.2" cy="170.2" r="0.47" fill="#8f6d50"/>
<circle cx="171.4" cy="167.2" r="0.37" fill="#a38262"/>
<circle cx="154.9" cy="165.9" r="0.56" fill="#8f6d50"/>
<circle cx="153.4" cy="168.9" r="0.43" fill="#8f6d50"/>
<circle cx="158.0" cy="168.2" r="0.39" fill="#6a4a33"/>
<circle cx="165.4" cy="168.7" r="0.35" fill="#a38262"/>
<circle cx="162.1" cy="163.7" r="0.55" fill="#8f6d50"/>
<circle cx="141.2" cy="165.5" r="0.37" fill="#6a4a33"/>
<circle cx="144.5" cy="163.5" r="0.43" fill="#7a573d"/>
<circle cx="140.6" cy="169.4" r="0.38" fill="#8f6d50"/>
<circle cx="148.1" cy="171.2" r="0.61" fill="#a38262"/>
<circle cx="170.7" cy="170.6" r="0.62" fill="#a38262"/>
<circle cx="133.9" cy="166.3" r="0.29" fill="#94705a"/>
<circle cx="142.6" cy="167.8" r="0.28" fill="#a38262"/>
<circle cx="151.2" cy="169.9" r="0.51" fill="#8f6d50"/>
<circle cx="162.3" cy="163.5" r="0.49" fill="#a38262"/>
<circle cx="138.0" cy="167.0" r="0.60" fill="#6a4a33"/>
<circle cx="143.8" cy="164.3" r="0.48" fill="#7a573d"/>
<circle cx="169.8" cy="167.9" r="0.57" fill="#7a573d"/>
<circle cx="158.7" cy="167.9" r="0.42" fill="#8f6d50"/>
<circle cx="153.4" cy="169.1" r="0.34" fill="#7a573d"/>
<circle cx="153.8" cy="168.4" r="0.34" fill="#a38262"/>
<circle cx="167.6" cy="166.8" r="0.47" fill="#6a4a33"/>
<circle cx="140.1" cy="168.5" r="0.29" fill="#8f6d50"/>
<circle cx="148.3" cy="167.1" r="0.34" fill="#7a573d"/>
<circle cx="149.6" cy="170.0" r="0.38" fill="#a38262"/>
<circle cx="154.5" cy="168.9" r="0.50" fill="#a38262"/>
<circle cx="130.4" cy="170.8" r="0.45" fill="#94705a"/>
<circle cx="130.9" cy="169.2" r="0.46" fill="#6a4a33"/>
<circle cx="137.8" cy="165.0" r="0.56" fill="#6a4a33"/>
<circle cx="177.3" cy="170.3" r="0.48" fill="#7a573d"/>
<circle cx="154.2" cy="168.4" r="0.32" fill="#a38262"/>
<circle cx="168.2" cy="167.9" r="0.32" fill="#6a4a33"/>
<circle cx="149.3" cy="168.3" r="0.58" fill="#a38262"/>
<circle cx="148.1" cy="166.9" r="0.30" fill="#8f6d50"/>
<circle cx="165.2" cy="167.9" r="0.64" fill="#94705a"/>
<circle cx="142.8" cy="166.8" r="0.47" fill="#a38262"/>
<circle cx="145.5" cy="169.1" r="0.45" fill="#a38262"/>
<circle cx="134.0" cy="170.5" r="0.54" fill="#8f6d50"/>
<circle cx="162.5" cy="162.7" r="0.52" fill="#94705a"/>
<circle cx="167.6" cy="164.7" r="0.30" fill="#8f6d50"/>
<circle cx="142.0" cy="170.6" r="0.46" fill="#7a573d"/>
<circle cx="170.8" cy="168.7" r="0.42" fill="#8f6d50"/>
<circle cx="150.6" cy="163.0" r="0.60" fill="#8f6d50"/>
<circle cx="149.9" cy="163.5" r="0.38" fill="#8f6d50"/>
<circle cx="136.3" cy="168.9" r="0.53" fill="#a38262"/>
<circle cx="154.4" cy="171.1" r="0.54" fill="#6a4a33"/>
<circle cx="162.0" cy="163.7" r="0.56" fill="#6a4a33"/>
<circle cx="164.6" cy="167.3" r="0.51" fill="#a38262"/>
<circle cx="147.3" cy="170.0" r="0.51" fill="#8f6d50"/>
<circle cx="138.8" cy="169.2" r="0.60" fill="#a38262"/>
<circle cx="163.0" cy="163.9" r="0.56" fill="#7a573d"/>
<circle cx="170.2" cy="170.8" r="0.64" fill="#7a573d"/>
<circle cx="165.1" cy="165.5" r="0.36" fill="#a38262"/>
<circle cx="171.4" cy="171.1" r="0.62" fill="#94705a"/>
<circle cx="169.3" cy="167.4" r="0.56" fill="#94705a"/>
<circle cx="170.2" cy="169.1" r="0.47" fill="#7a573d"/>
<circle cx="150.0" cy="166.2" r="0.52" fill="#6a4a33"/>
<circle cx="156.8" cy="170.8" r="0.38" fill="#a38262"/>
<circle cx="158.6" cy="171.0" r="0.49" fill="#94705a"/>
<circle cx="161.2" cy="166.1" r="0.36" fill="#6a4a33"/>
<circle cx="177.8" cy="170.6" r="0.39" fill="#7a573d"/>
<circle cx="142.2" cy="162.5" r="0.57" fill="#8f6d50"/>
<circle cx="140.1" cy="166.3" r="0.39" fill="#8f6d50"/>
<circle cx="159.2" cy="165.4" r="0.44" fill="#8f6d50"/>
<circle cx="157.8" cy="167.1" r="0.31" fill="#94705a"/>
<circle cx="148.7" cy="162.8" r="0.33" fill="#94705a"/>
<circle cx="144.8" cy="167.5" r="0.53" fill="#6a4a33"/>
<circle cx="135.2" cy="166.1" r="0.42" fill="#8f6d50"/>
<circle cx="145.3" cy="167.9" r="0.51" fill="#6a4a33"/>
<circle cx="168.0" cy="165.4" r="0.38" fill="#8f6d50"/>
<circle cx="145.9" cy="170.7" r="0.58" fill="#94705a"/>
<circle cx="151.6" cy="165.5" r="0.65" fill="#8f6d50"/>
<circle cx="130.8" cy="170.2" r="0.39" fill="#7a573d"/>
<circle cx="148.3" cy="164.9" r="0.49" fill="#8f6d50"/>
<circle cx="149.5" cy="171.1" r="0.31" fill="#a38262"/>
<circle cx="176.7" cy="171.3" r="0.32" fill="#94705a"/>
<circle cx="129.4" cy="169.4" r="0.63" fill="#94705a"/>
<circle cx="144.2" cy="164.7" r="0.33" fill="#7a573d"/>
<circle cx="167.5" cy="168.0" r="0.49" fill="#8f6d50"/>
<circle cx="157.4" cy="167.5" r="0.43" fill="#a38262"/>
<circle cx="140.5" cy="171.0" r="0.30" fill="#7a573d"/>
<circle cx="157.2" cy="167.5" r="0.43" fill="#6a4a33"/>
<circle cx="167.8" cy="167.2" r="0.63" fill="#7a573d"/>
<circle cx="157.6" cy="169.7" r="0.31" fill="#a38262"/>
<circle cx="159.0" cy="162.5" r="0.50" fill="#a38262"/>
<circle cx="135.5" cy="166.3" r="0.29" fill="#94705a"/>
<circle cx="144.2" cy="165.0" r="0.43" fill="#94705a"/>
<circle cx="156.7" cy="166.6" r="0.57" fill="#a38262"/>
<circle cx="163.1" cy="162.5" r="0.59" fill="#a38262"/>
<circle cx="159.9" cy="166.0" r="0.54" fill="#7a573d"/>
<circle cx="159.5" cy="163.7" r="0.51" fill="#a38262"/>
<circle cx="134.5" cy="167.1" r="0.52" fill="#8f6d50"/>
<circle cx="135.2" cy="167.6" r="0.48" fill="#8f6d50"/>
<circle cx="172.2" cy="169.6" r="0.60" fill="#8f6d50"/>
<circle cx="167.9" cy="168.4" r="0.49" fill="#94705a"/>
<circle cx="158.9" cy="167.2" r="0.37" fill="#8f6d50"/>
<circle cx="151.2" cy="164.4" r="0.39" fill="#a38262"/>
<circle cx="129.4" cy="170.2" r="0.63" fill="#8f6d50"/>
<circle cx="149.4" cy="166.7" r="0.50" fill="#a38262"/>
<circle cx="145.7" cy="165.4" r="0.39" fill="#7a573d"/>
<circle cx="170.5" cy="166.5" r="0.28" fill="#94705a"/>
<circle cx="151.0" cy="164.2" r="0.62" fill="#8f6d50"/>
<circle cx="152.0" cy="169.5" r="0.41" fill="#6a4a33"/>
<circle cx="167.2" cy="165.3" r="0.55" fill="#6a4a33"/>
<circle cx="168.8" cy="169.6" r="0.44" fill="#6a4a33"/>
<circle cx="164.0" cy="164.4" r="0.46" fill="#7a573d"/>
<circle cx="157.4" cy="170.5" r="0.55" fill="#a38262"/>
<circle cx="165.2" cy="168.5" r="0.62" fill="#94705a"/>
<circle cx="169.1" cy="170.7" r="0.45" fill="#6a4a33"/>
<circle cx="135.1" cy="166.7" r="0.40" fill="#6a4a33"/>
<circle cx="136.1" cy="167.8" r="0.43" fill="#a38262"/>
<circle cx="143.6" cy="170.8" r="0.42" fill="#6a4a33"/>
<circle cx="158.2" cy="167.8" r="0.47" fill="#94705a"/>
<circle cx="139.0" cy="168.5" r="0.62" fill="#6a4a33"/>
<circle cx="169.2" cy="168.3" r="0.58" fill="#7a573d"/>
<circle cx="145.3" cy="167.6" r="0.57" fill="#94705a"/>
<circle cx="151.2" cy="170.4" r="0.55" fill="#94705a"/>
<circle cx="172.6" cy="168.2" r="0.51" fill="#7a573d"/>
<circle cx="158.3" cy="169.1" r="0.39" fill="#6a4a33"/>
<circle cx="141.4" cy="163.4" r="0.34" fill="#94705a"/>
<circle cx="165.1" cy="171.0" r="0.55" fill="#6a4a33"/>
<circle cx="141.1" cy="171.0" r="0.39" fill="#94705a"/>
<circle cx="158.1" cy="165.5" r="0.30" fill="#a38262"/>
<circle cx="162.2" cy="169.7" r="0.33" fill="#94705a"/>
<circle cx="129.5" cy="169.0" r="0.48" fill="#94705a"/>
<circle cx="165.0" cy="165.2" r="0.46" fill="#94705a"/>
<circle cx="159.7" cy="171.0" r="0.34" fill="#8f6d50"/>
<circle cx="137.8" cy="164.8" r="0.48" fill="#94705a"/>
<circle cx="135.6" cy="167.5" r="0.55" fill="#7a573d"/>
<circle cx="134.7" cy="170.7" r="0.49" fill="#94705a"/>
<circle cx="158.4" cy="165.4" r="0.59" fill="#94705a"/>
<circle cx="171.4" cy="169.9" r="0.34" fill="#8f6d50"/>
<circle cx="179.0" cy="171.0" r="0.29" fill="#6a4a33"/>
<circle cx="160.0" cy="165.9" r="0.49" fill="#7a573d"/>
<circle cx="139.4" cy="166.9" r="0.30" fill="#7a573d"/>
<circle cx="127.8" cy="170.5" r="0.47" fill="#a38262"/>
<circle cx="160.5" cy="170.7" r="0.40" fill="#6a4a33"/>
<circle cx="152.2" cy="164.2" r="0.57" fill="#7a573d"/>
<circle cx="147.7" cy="169.9" r="0.44" fill="#8f6d50"/>
<circle cx="150.5" cy="167.5" r="0.37" fill="#a38262"/>
<circle cx="149.1" cy="164.4" r="0.55" fill="#8f6d50"/>
<circle cx="138.5" cy="164.7" r="0.41" fill="#8f6d50"/>
<circle cx="143.5" cy="165.6" r="0.36" fill="#6a4a33"/>
<circle cx="161.9" cy="169.1" r="0.34" fill="#7a573d"/>
<circle cx="141.8" cy="166.8" r="0.59" fill="#7a573d"/>
<circle cx="143.1" cy="166.0" r="0.28" fill="#6a4a33"/>
<circle cx="155.9" cy="165.9" r="0.30" fill="#94705a"/>
<circle cx="148.7" cy="164.1" r="0.37" fill="#8f6d50"/>
<circle cx="163.8" cy="168.9" r="0.41" fill="#94705a"/>
<circle cx="159.5" cy="164.1" r="0.30" fill="#94705a"/>
<circle cx="134.5" cy="167.9" r="0.47" fill="#7a573d"/>
<circle cx="165.2" cy="168.2" r="0.29" fill="#6a4a33"/>
<circle cx="141.9" cy="169.0" r="0.46" fill="#7a573d"/>
<circle cx="153.5" cy="170.6" r="0.59" fill="#a38262"/>
<circle cx="158.2" cy="164.3" r="0.62" fill="#6a4a33"/>
<circle cx="164.7" cy="169.4" r="0.51" fill="#a38262"/>
<circle cx="169.4" cy="166.5" r="0.30" fill="#6a4a33"/>
<circle cx="166.5" cy="170.2" r="0.61" fill="#a38262"/>
<circle cx="148.1" cy="167.4" r="0.33" fill="#a38262"/>
<circle cx="168.4" cy="166.1" r="0.60" fill="#94705a"/>
<circle cx="129.0" cy="170.6" r="0.48" fill="#8f6d50"/>
<circle cx="144.2" cy="167.5" r="0.35" fill="#a38262"/>
<circle cx="172.9" cy="171.0" r="0.41" fill="#a38262"/>
<circle cx="164.1" cy="167.3" r="0.42" fill="#6a4a33"/>
<circle cx="145.0" cy="165.4" r="0.36" fill="#7a573d"/>
<circle cx="141.7" cy="163.4" r="0.31" fill="#6a4a33"/>
<circle cx="167.4" cy="168.7" r="0.40" fill="#a38262"/>
<circle cx="145.5" cy="169.1" r="0.40" fill="#7a573d"/>
<circle cx="147.0" cy="164.7" r="0.46" fill="#94705a"/>
<circle cx="171.3" cy="171.2" r="0.55" fill="#7a573d"/>
<circle cx="165.9" cy="170.6" r="0.33" fill="#7a573d"/>
<circle cx="154.1" cy="165.2" r="0.63" fill="#8f6d50"/>
<circle cx="148.2" cy="163.5" r="0.30" fill="#6a4a33"/>
<circle cx="158.2" cy="166.6" r="0.47" fill="#a38262"/>
<circle cx="139.1" cy="167.5" r="0.54" fill="#a38262"/>
<circle cx="168.1" cy="165.0" r="0.40" fill="#a38262"/>
<circle cx="163.7" cy="166.7" r="0.60" fill="#6a4a33"/>
<circle cx="155.1" cy="168.7" r="0.41" fill="#8f6d50"/>
<circle cx="144.1" cy="167.9" r="0.32" fill="#6a4a33"/>
<circle cx="165.6" cy="168.1" r="0.42" fill="#6a4a33"/>
<circle cx="170.1" cy="167.2" r="0.64" fill="#7a573d"/>
<circle cx="130.2" cy="170.5" r="0.54" fill="#a38262"/>
<circle cx="166.9" cy="167.5" r="0.60" fill="#6a4a33"/>
<circle cx="158.4" cy="162.8" r="0.42" fill="#94705a"/>
<circle cx="159.7" cy="167.9" r="0.41" fill="#7a573d"/>
<circle cx="157.5" cy="170.8" r="0.41" fill="#6a4a33"/>
<circle cx="144.9" cy="170.6" r="0.45" fill="#8f6d50"/>
<circle cx="144.7" cy="171.1" r="0.29" fill="#6a4a33"/>
<circle cx="163.8" cy="169.7" r="0.33" fill="#94705a"/>
<circle cx="158.8" cy="165.7" r="0.38" fill="#6a4a33"/>
<circle cx="174.8" cy="170.0" r="0.40" fill="#a38262"/>
<circle cx="161.3" cy="169.0" r="0.36" fill="#94705a"/>
<circle cx="168.7" cy="169.8" r="0.45" fill="#7a573d"/>
<circle cx="143.6" cy="166.5" r="0.36" fill="#7a573d"/>
<circle cx="137.0" cy="168.0" r="0.56" fill="#94705a"/>
<circle cx="135.7" cy="170.3" r="0.29" fill="#8f6d50"/>
<circle cx="149.4" cy="165.7" r="0.57" fill="#94705a"/>
<circle cx="164.8" cy="170.8" r="0.61" fill="#94705a"/>
<circle cx="167.7" cy="168.6" r="0.44" fill="#94705a"/>
<circle cx="160.3" cy="168.9" r="0.39" fill="#a38262"/>
<circle cx="175.8" cy="169.1" r="0.36" fill="#7a573d"/>
<circle cx="148.9" cy="162.8" r="0.31" fill="#7a573d"/>
<circle cx="141.3" cy="164.0" r="0.52" fill="#7a573d"/>
<circle cx="140.4" cy="165.8" r="0.57" fill="#a38262"/>
<circle cx="153.7" cy="169.0" r="0.58" fill="#94705a"/>
<circle cx="163.2" cy="162.6" r="0.64" fill="#6a4a33"/>
<circle cx="163.4" cy="169.7" r="0.35" fill="#6a4a33"/>
<circle cx="160.7" cy="167.9" r="0.34" fill="#8f6d50"/>
<circle cx="151.8" cy="168.1" r="0.29" fill="#a38262"/>
<circle cx="163.0" cy="167.2" r="0.62" fill="#a38262"/>
<circle cx="159.9" cy="169.5" r="0.62" fill="#7a573d"/>
<circle cx="142.2" cy="170.6" r="0.29" fill="#7a573d"/>
<circle cx="157.0" cy="165.9" r="0.30" fill="#a38262"/>
<circle cx="151.7" cy="169.5" r="0.29" fill="#8f6d50"/>
<circle cx="150.5" cy="163.1" r="0.51" fill="#7a573d"/>
<circle cx="165.3" cy="165.4" r="0.56" fill="#7a573d"/>
<circle cx="161.4" cy="164.4" r="0.45" fill="#6a4a33"/>
<circle cx="146.7" cy="166.9" r="0.59" fill="#a38262"/>
<circle cx="139.6" cy="170.9" r="0.42" fill="#a38262"/>
<circle cx="144.9" cy="169.0" r="0.47" fill="#94705a"/>
<circle cx="152.1" cy="168.0" r="0.53" fill="#8f6d50"/>
<circle cx="154.3" cy="167.5" r="0.61" fill="#6a4a33"/>
<circle cx="140.8" cy="170.4" r="0.37" fill="#8f6d50"/>
<circle cx="152.2" cy="163.2" r="0.42" fill="#7a573d"/>
<circle cx="166.9" cy="165.8" r="0.40" fill="#7a573d"/>
<circle cx="161.9" cy="166.8" r="0.43" fill="#a38262"/>
<circle cx="135.9" cy="167.1" r="0.59" fill="#8f6d50"/>
<circle cx="150.0" cy="169.2" r="0.64" fill="#94705a"/>
<circle cx="143.9" cy="163.3" r="0.50" fill="#a38262"/>
<circle cx="135.5" cy="165.6" r="0.50" fill="#6a4a33"/>
<circle cx="152.4" cy="167.4" r="0.38" fill="#a38262"/>
<circle cx="142.4" cy="167.4" r="0.52" fill="#94705a"/>
<circle cx="150.0" cy="169.1" r="0.29" fill="#94705a"/>
<circle cx="165.7" cy="167.2" r="0.38" fill="#8f6d50"/>
<circle cx="143.5" cy="166.0" r="0.54" fill="#7a573d"/>
<circle cx="171.4" cy="169.7" r="0.51" fill="#94705a"/>
<circle cx="161.6" cy="170.6" r="0.31" fill="#6a4a33"/>
<circle cx="170.3" cy="167.2" r="0.64" fill="#94705a"/>
<circle cx="141.9" cy="167.4" r="0.41" fill="#8f6d50"/>
<circle cx="166.9" cy="170.1" r="0.46" fill="#94705a"/>
<circle cx="165.4" cy="166.0" r="0.54" fill="#94705a"/>
<circle cx="153.9" cy="165.8" r="0.39" fill="#6a4a33"/>
<circle cx="151.0" cy="165.6" r="0.54" fill="#7a573d"/>
<circle cx="140.0" cy="168.1" r="0.34" fill="#6a4a33"/>
<circle cx="149.5" cy="169.2" r="0.42" fill="#7a573d"/>
<circle cx="160.1" cy="169.2" r="0.42" fill="#a38262"/>
<circle cx="160.1" cy="166.9" r="0.54" fill="#94705a"/>
<circle cx="148.7" cy="164.7" r="0.31" fill="#94705a"/>
<circle cx="139.2" cy="171.0" r="0.35" fill="#a38262"/>
<circle cx="167.2" cy="168.8" r="0.54" fill="#94705a"/>
<circle cx="150.4" cy="168.0" r="0.32" fill="#7a573d"/>
<circle cx="129.2" cy="169.6" r="0.51" fill="#94705a"/>
<circle cx="151.6" cy="166.4" r="0.64" fill="#8f6d50"/>
<circle cx="143.9" cy="169.6" r="0.48" fill="#8f6d50"/>
<circle cx="143.5" cy="163.2" r="0.62" fill="#a38262"/>
<circle cx="160.5" cy="164.8" r="0.54" fill="#94705a"/>
<circle cx="142.5" cy="170.9" r="0.44" fill="#7a573d"/>
<circle cx="170.9" cy="166.6" r="0.42" fill="#8f6d50"/>
<circle cx="144.5" cy="167.0" r="0.42" fill="#6a4a33"/>
<circle cx="131.2" cy="170.7" r="0.33" fill="#7a573d"/>
<circle cx="149.5" cy="164.0" r="0.63" fill="#7a573d"/>
<circle cx="145.6" cy="169.8" r="0.62" fill="#8f6d50"/>
<circle cx="136.2" cy="170.1" r="0.39" fill="#94705a"/>
<circle cx="128.0" cy="171.4" r="0.31" fill="#8f6d50"/>
<circle cx="164.6" cy="170.0" r="0.63" fill="#7a573d"/>
<circle cx="139.4" cy="167.5" r="0.45" fill="#6a4a33"/>
<circle cx="146.0" cy="168.5" r="0.59" fill="#a38262"/>
<circle cx="166.5" cy="164.6" r="0.34" fill="#8f6d50"/>
<circle cx="163.4" cy="166.8" r="0.32" fill="#a38262"/>
<circle cx="170.9" cy="170.4" r="0.37" fill="#94705a"/>
<circle cx="141.2" cy="166.7" r="0.42" fill="#94705a"/>
<circle cx="130.3" cy="169.0" r="0.36" fill="#6a4a33"/>
<circle cx="142.8" cy="166.3" r="0.55" fill="#a38262"/>
<circle cx="153.9" cy="169.0" r="0.40" fill="#a38262"/>
<circle cx="159.4" cy="162.3" r="0.50" fill="#94705a"/>
<circle cx="157.8" cy="162.5" r="0.42" fill="#7a573d"/>
<circle cx="144.1" cy="170.3" r="0.34" fill="#8f6d50"/>
<circle cx="171.8" cy="168.9" r="0.39" fill="#6a4a33"/>
<circle cx="155.1" cy="168.2" r="0.46" fill="#94705a"/>
<circle cx="161.8" cy="166.4" r="0.38" fill="#7a573d"/>
<circle cx="159.5" cy="164.6" r="0.56" fill="#8f6d50"/>
<circle cx="132.1" cy="168.6" r="0.61" fill="#7a573d"/>
<circle cx="132.2" cy="168.9" r="0.62" fill="#8f6d50"/>
<circle cx="154.8" cy="166.8" r="0.43" fill="#94705a"/>
<circle cx="166.6" cy="166.6" r="0.55" fill="#a38262"/>
<circle cx="130.2" cy="169.3" r="0.52" fill="#7a573d"/>
<circle cx="133.3" cy="171.0" r="0.28" fill="#a38262"/>
<circle cx="140.2" cy="170.5" r="0.46" fill="#8f6d50"/>
<circle cx="138.9" cy="170.3" r="0.48" fill="#94705a"/>
<circle cx="143.1" cy="167.2" r="0.30" fill="#94705a"/>
<circle cx="168.0" cy="166.6" r="0.29" fill="#a38262"/>
<circle cx="173.7" cy="169.2" r="0.38" fill="#7a573d"/>
<circle cx="168.3" cy="165.6" r="0.50" fill="#6a4a33"/>
<circle cx="142.0" cy="164.5" r="0.48" fill="#6a4a33"/>
<circle cx="151.0" cy="167.0" r="0.37" fill="#8f6d50"/>
<circle cx="162.3" cy="164.5" r="0.52" fill="#6a4a33"/>
<circle cx="152.7" cy="163.1" r="0.47" fill="#6a4a33"/>
<circle cx="160.2" cy="170.0" r="0.37" fill="#94705a"/>
<circle cx="154.0" cy="169.6" r="0.51" fill="#94705a"/>
<circle cx="148.0" cy="169.2" r="0.31" fill="#7a573d"/>
<circle cx="164.1" cy="169.7" r="0.55" fill="#7a573d"/>
<circle cx="169.0" cy="165.8" r="0.63" fill="#8f6d50"/>
<circle cx="155.5" cy="168.8" r="0.56" fill="#a38262"/>
<circle cx="135.0" cy="170.1" r="0.48" fill="#7a573d"/>
<circle cx="176.8" cy="171.3" r="0.55" fill="#94705a"/>
<circle cx="173.2" cy="168.7" r="0.28" fill="#94705a"/></g>
<g><circle cx="139.1" cy="168.1" r="0.69" fill="#eef0f0"/>
<circle cx="162.0" cy="169.7" r="0.71" fill="#f5f2ee"/>
<circle cx="147.1" cy="163.4" r="0.64" fill="#f5f2ee"/>
<circle cx="152.3" cy="163.8" r="0.49" fill="#f5f2ee"/>
<circle cx="134.4" cy="167.1" r="0.55" fill="#ffffff"/>
<circle cx="155.2" cy="167.6" r="0.46" fill="#ffffff"/>
<circle cx="131.8" cy="168.2" r="0.56" fill="#f5f2ee"/>
<circle cx="150.0" cy="163.9" r="0.41" fill="#eef0f0"/>
<circle cx="145.6" cy="167.4" r="0.69" fill="#eef0f0"/>
<circle cx="154.8" cy="164.8" r="0.64" fill="#f5f2ee"/>
<circle cx="172.4" cy="169.7" r="0.54" fill="#f5f2ee"/>
<circle cx="147.9" cy="165.6" r="0.75" fill="#ffffff"/>
<circle cx="169.0" cy="166.2" r="0.66" fill="#ffffff"/>
<circle cx="144.3" cy="164.3" r="0.62" fill="#f5f2ee"/>
<circle cx="165.6" cy="168.4" r="0.74" fill="#eef0f0"/>
<circle cx="164.1" cy="171.3" r="0.46" fill="#f5f2ee"/>
<circle cx="143.4" cy="166.8" r="0.48" fill="#f5f2ee"/>
<circle cx="164.9" cy="170.1" r="0.44" fill="#f5f2ee"/>
<circle cx="169.2" cy="167.0" r="0.51" fill="#eef0f0"/>
<circle cx="137.0" cy="169.6" r="0.42" fill="#f5f2ee"/>
<circle cx="129.7" cy="170.0" r="0.67" fill="#eef0f0"/>
<circle cx="141.5" cy="165.8" r="0.75" fill="#eef0f0"/>
<circle cx="162.8" cy="166.8" r="0.44" fill="#ffffff"/>
<circle cx="166.8" cy="166.5" r="0.40" fill="#eef0f0"/>
<circle cx="147.1" cy="167.5" r="0.76" fill="#ffffff"/>
<circle cx="144.6" cy="168.6" r="0.61" fill="#f5f2ee"/>
<circle cx="163.5" cy="170.4" r="0.70" fill="#ffffff"/>
<circle cx="164.0" cy="168.5" r="0.66" fill="#f5f2ee"/>
<circle cx="153.3" cy="165.8" r="0.76" fill="#eef0f0"/>
<circle cx="131.3" cy="168.0" r="0.66" fill="#ffffff"/>
<circle cx="156.5" cy="162.6" r="0.51" fill="#f5f2ee"/>
<circle cx="145.3" cy="162.4" r="0.51" fill="#f5f2ee"/>
<circle cx="142.7" cy="165.5" r="0.75" fill="#eef0f0"/>
<circle cx="161.9" cy="163.1" r="0.77" fill="#ffffff"/>
<circle cx="172.3" cy="169.1" r="0.63" fill="#eef0f0"/>
<circle cx="160.2" cy="163.1" r="0.47" fill="#f5f2ee"/>
<circle cx="161.2" cy="166.1" r="0.37" fill="#f5f2ee"/>
<circle cx="165.3" cy="170.3" r="0.58" fill="#ffffff"/>
<circle cx="154.1" cy="163.2" r="0.49" fill="#f5f2ee"/>
<circle cx="161.4" cy="163.5" r="0.62" fill="#f5f2ee"/>
<circle cx="144.5" cy="163.5" r="0.64" fill="#f5f2ee"/>
<circle cx="164.3" cy="166.8" r="0.68" fill="#f5f2ee"/>
<circle cx="153.4" cy="168.2" r="0.69" fill="#eef0f0"/>
<circle cx="162.5" cy="163.1" r="0.60" fill="#f5f2ee"/>
<circle cx="149.0" cy="170.9" r="0.49" fill="#eef0f0"/>
<circle cx="144.1" cy="170.1" r="0.76" fill="#eef0f0"/>
<circle cx="135.1" cy="167.0" r="0.75" fill="#eef0f0"/>
<circle cx="142.9" cy="164.8" r="0.53" fill="#ffffff"/>
<circle cx="145.2" cy="165.4" r="0.54" fill="#ffffff"/>
<circle cx="161.8" cy="165.5" r="0.55" fill="#eef0f0"/>
<circle cx="144.6" cy="166.6" r="0.43" fill="#eef0f0"/>
<circle cx="154.8" cy="169.1" r="0.42" fill="#ffffff"/>
<circle cx="153.3" cy="168.5" r="0.52" fill="#ffffff"/>
<circle cx="167.8" cy="170.6" r="0.36" fill="#ffffff"/>
<circle cx="137.3" cy="167.8" r="0.67" fill="#f5f2ee"/>
<circle cx="152.4" cy="162.6" r="0.37" fill="#ffffff"/>
<circle cx="141.3" cy="168.7" r="0.43" fill="#f5f2ee"/>
<circle cx="144.4" cy="166.5" r="0.70" fill="#ffffff"/>
<circle cx="158.6" cy="167.5" r="0.68" fill="#eef0f0"/>
<circle cx="145.7" cy="166.8" r="0.47" fill="#f5f2ee"/>
<circle cx="158.6" cy="165.7" r="0.64" fill="#eef0f0"/>
<circle cx="169.0" cy="168.4" r="0.71" fill="#ffffff"/>
<circle cx="136.7" cy="167.9" r="0.63" fill="#ffffff"/>
<circle cx="168.1" cy="165.6" r="0.60" fill="#eef0f0"/>
<circle cx="151.0" cy="166.9" r="0.44" fill="#f5f2ee"/>
<circle cx="147.3" cy="163.1" r="0.61" fill="#ffffff"/>
<circle cx="160.7" cy="166.6" r="0.63" fill="#eef0f0"/>
<circle cx="158.6" cy="163.4" r="0.43" fill="#ffffff"/>
<circle cx="141.0" cy="170.4" r="0.70" fill="#eef0f0"/>
<circle cx="141.9" cy="164.6" r="0.60" fill="#eef0f0"/>
<circle cx="178.2" cy="170.4" r="0.69" fill="#f5f2ee"/>
<circle cx="140.0" cy="168.3" r="0.43" fill="#ffffff"/>
<circle cx="145.0" cy="165.8" r="0.53" fill="#ffffff"/>
<circle cx="159.2" cy="164.0" r="0.72" fill="#ffffff"/>
<circle cx="171.8" cy="169.4" r="0.37" fill="#eef0f0"/>
<circle cx="131.9" cy="169.1" r="0.36" fill="#eef0f0"/>
<circle cx="145.7" cy="166.9" r="0.46" fill="#eef0f0"/>
<circle cx="175.5" cy="169.6" r="0.40" fill="#ffffff"/>
<circle cx="158.2" cy="164.8" r="0.76" fill="#f5f2ee"/>
<circle cx="135.4" cy="165.8" r="0.37" fill="#f5f2ee"/>
<circle cx="162.0" cy="165.3" r="0.76" fill="#eef0f0"/>
<circle cx="130.0" cy="170.7" r="0.39" fill="#eef0f0"/>
<circle cx="149.4" cy="163.6" r="0.71" fill="#eef0f0"/>
<circle cx="158.1" cy="167.8" r="0.79" fill="#f5f2ee"/>
<circle cx="169.0" cy="169.3" r="0.56" fill="#eef0f0"/>
<circle cx="164.0" cy="164.5" r="0.70" fill="#f5f2ee"/>
<circle cx="161.1" cy="162.3" r="0.53" fill="#ffffff"/>
<circle cx="153.4" cy="168.0" r="0.74" fill="#f5f2ee"/>
<circle cx="145.6" cy="171.3" r="0.66" fill="#f5f2ee"/>
<circle cx="162.1" cy="163.0" r="0.43" fill="#f5f2ee"/></g>
<g filter="url(#rough2)"><path d="M153.1 115.0 C158.0 114.4 156.2 114.5 160.4 115.8 C164.6 117.1 162.8 116.4 165.6 119.0 C168.4 121.6 167.1 119.9 168.8 123.5 C170.5 127.1 169.6 125.3 170.8 129.8 C172.0 134.3 171.7 132.2 172.4 137.1 C173.1 142.0 172.9 139.5 173.0 144.4 C173.1 149.3 173.1 147.9 172.7 151.7 C172.3 155.5 173.0 153.4 171.9 155.8 C170.8 158.2 171.2 157.7 169.3 158.8 C167.4 159.9 168.0 160.0 166.1 159.0 C164.2 158.0 170.3 156.9 163.5 155.8 C156.7 154.7 152.7 154.7 145.8 155.8 C138.9 156.9 144.9 158.5 142.7 159.0 C140.5 159.5 141.4 159.1 139.1 157.4 C136.8 155.7 137.5 156.8 135.9 153.8 C134.3 150.8 134.9 152.3 134.2 148.5 C133.5 144.7 133.5 146.1 133.9 142.3 C134.3 138.5 134.0 140.2 135.4 137.1 C136.8 134.0 136.6 136.0 138.0 132.9 C139.4 129.8 138.4 131.2 139.6 127.7 C140.8 124.2 139.6 125.9 141.7 122.5 C143.8 119.1 142.0 120.0 145.8 117.5 C149.6 115.0 148.2 115.6 153.1 115.0 Z" fill="#6e4c33"/>
<path d="M159.4 117.3 C160.8 115.2 162.5 117.1 165.6 119.4 C168.7 121.7 167.1 120.5 168.8 124.1 C170.5 127.7 169.6 125.8 170.8 130.3 C172.0 134.8 171.7 132.7 172.4 137.6 C173.1 142.5 172.9 140.2 172.9 144.9 C172.9 149.6 172.9 148.1 172.5 151.7 C172.1 155.3 172.8 153.6 171.7 155.8 C170.6 158.0 171.0 157.5 169.3 158.4 C167.6 159.3 168.2 159.4 166.5 158.5 C164.8 157.6 164.6 158.8 164.1 155.8 C163.6 152.8 164.4 154.5 165.1 149.6 C165.8 144.7 166.3 146.8 166.1 141.2 C165.9 135.6 166.1 138.1 164.6 132.9 C163.1 127.7 163.2 130.8 161.5 125.6 C159.8 120.4 158.0 119.4 159.4 117.3 Z" fill="#503a29"/></g>
<path d="M145.7 149.1 C148.2 148.2 158.4 147.9 161.0 149.1 C163.6 150.3 160.9 154.4 161.2 156.3 C161.4 158.2 161.9 159.4 162.5 160.4 C163.1 161.4 164.8 160.6 164.6 162.4 C164.4 164.2 163.9 169.6 161.5 171.1 C159.1 172.6 153.7 172.8 150.3 171.4 C146.9 170.0 142.1 164.9 141.1 162.9 C140.1 160.9 143.3 160.8 144.1 159.3 C144.9 157.9 145.4 155.9 145.7 154.2 C146.0 152.5 143.1 149.9 145.7 149.1 Z" fill="#dfc6b4"/>
<path d="M153.3 149.1 C154.6 147.9 159.7 147.9 161.0 149.1 C162.3 150.3 160.9 154.4 161.2 156.3 C161.4 158.2 161.9 159.4 162.5 160.4 C163.1 161.4 164.8 160.6 164.6 162.4 C164.4 164.2 163.5 169.6 161.5 171.1 C159.5 172.6 154.2 172.7 152.6 171.4 C151.0 170.1 151.9 165.9 152.0 163.4 C152.1 160.9 152.8 158.7 153.0 156.3 C153.2 153.9 152.0 150.3 153.3 149.1 Z" fill="#b9ab97"/>
<g><circle cx="148.7" cy="168.8" r="0.17" fill="#b08d6e"/>
<circle cx="155.6" cy="170.4" r="0.34" fill="#b08d6e"/>
<circle cx="161.0" cy="167.1" r="0.35" fill="#8a6a4d"/>
<circle cx="161.1" cy="170.5" r="0.19" fill="#9a7558"/>
<circle cx="150.0" cy="157.3" r="0.35" fill="#b08d6e"/>
<circle cx="158.0" cy="170.5" r="0.20" fill="#8a6a4d"/>
<circle cx="158.6" cy="162.3" r="0.17" fill="#8a6a4d"/>
<circle cx="153.0" cy="163.8" r="0.34" fill="#9a7558"/>
<circle cx="146.8" cy="156.9" r="0.22" fill="#b08d6e"/>
<circle cx="147.8" cy="160.6" r="0.26" fill="#9a7558"/>
<circle cx="154.5" cy="169.9" r="0.24" fill="#9a7558"/>
<circle cx="150.9" cy="171.0" r="0.24" fill="#8a6a4d"/>
<circle cx="149.7" cy="155.7" r="0.23" fill="#8a6a4d"/>
<circle cx="150.8" cy="165.6" r="0.22" fill="#9a7558"/>
<circle cx="159.6" cy="157.3" r="0.26" fill="#b08d6e"/>
<circle cx="149.9" cy="168.4" r="0.34" fill="#b08d6e"/>
<circle cx="149.4" cy="164.7" r="0.26" fill="#9a7558"/>
<circle cx="145.0" cy="158.3" r="0.32" fill="#8a6a4d"/>
<circle cx="163.3" cy="157.4" r="0.27" fill="#b08d6e"/>
<circle cx="148.1" cy="165.6" r="0.35" fill="#b08d6e"/>
<circle cx="158.3" cy="158.4" r="0.24" fill="#b08d6e"/>
<circle cx="157.5" cy="170.4" r="0.17" fill="#b08d6e"/>
<circle cx="157.4" cy="158.3" r="0.31" fill="#b08d6e"/>
<circle cx="150.7" cy="159.9" r="0.31" fill="#b08d6e"/>
<circle cx="157.9" cy="164.8" r="0.35" fill="#b08d6e"/>
<circle cx="147.5" cy="167.9" r="0.30" fill="#b08d6e"/>
<circle cx="147.1" cy="166.1" r="0.15" fill="#9a7558"/>
<circle cx="158.5" cy="159.6" r="0.15" fill="#9a7558"/>
<circle cx="145.9" cy="154.0" r="0.27" fill="#9a7558"/>
<circle cx="153.3" cy="156.9" r="0.15" fill="#9a7558"/>
<circle cx="145.9" cy="157.8" r="0.17" fill="#9a7558"/>
<circle cx="158.9" cy="155.8" r="0.17" fill="#9a7558"/>
<circle cx="154.3" cy="158.8" r="0.31" fill="#9a7558"/>
<circle cx="153.7" cy="165.4" r="0.32" fill="#8a6a4d"/>
<circle cx="146.1" cy="155.4" r="0.31" fill="#9a7558"/>
<circle cx="151.5" cy="155.9" r="0.22" fill="#8a6a4d"/>
<circle cx="147.3" cy="156.9" r="0.16" fill="#b08d6e"/>
<circle cx="162.0" cy="159.4" r="0.19" fill="#8a6a4d"/>
<circle cx="157.0" cy="158.1" r="0.24" fill="#b08d6e"/>
<circle cx="161.0" cy="156.4" r="0.24" fill="#9a7558"/>
<circle cx="157.8" cy="164.3" r="0.20" fill="#8a6a4d"/>
<circle cx="161.9" cy="157.1" r="0.29" fill="#b08d6e"/>
<circle cx="155.9" cy="166.4" r="0.33" fill="#9a7558"/>
<circle cx="161.7" cy="158.0" r="0.33" fill="#8a6a4d"/>
<circle cx="150.9" cy="166.6" r="0.35" fill="#9a7558"/>
<circle cx="148.2" cy="165.0" r="0.35" fill="#8a6a4d"/>
<circle cx="149.6" cy="158.4" r="0.24" fill="#8a6a4d"/>
<circle cx="155.3" cy="164.7" r="0.17" fill="#9a7558"/>
<circle cx="151.0" cy="167.3" r="0.16" fill="#9a7558"/>
<circle cx="151.7" cy="168.2" r="0.31" fill="#8a6a4d"/></g>
<g><circle cx="137.8" cy="162.1" r="0.48" fill="#ffffff"/>
<circle cx="144.0" cy="160.5" r="0.40" fill="#f3f0ec"/>
<circle cx="141.2" cy="168.1" r="0.75" fill="#ffffff"/>
<circle cx="138.1" cy="168.3" r="0.58" fill="#f3f0ec"/>
<circle cx="144.8" cy="166.3" r="0.62" fill="#f3f0ec"/>
<circle cx="139.4" cy="164.8" r="0.50" fill="#f3f0ec"/>
<circle cx="141.6" cy="161.7" r="0.70" fill="#ffffff"/>
<circle cx="140.8" cy="164.1" r="0.45" fill="#ffffff"/></g>
<path d="M153.1 120.4 C156.2 120.4 155.1 120.0 158.3 121.7 C161.5 123.4 160.5 122.4 162.7 125.6 C164.9 128.8 164.1 127.4 165.0 131.4 C165.9 135.4 165.5 133.3 165.4 137.6 C165.3 141.9 165.6 139.9 164.6 144.4 C163.6 148.9 164.4 147.3 162.5 151.1 C160.6 154.9 161.7 153.6 158.9 155.8 C156.1 158.0 157.2 157.5 154.2 157.7 C151.2 157.9 152.6 158.4 150.0 156.4 C147.4 154.4 148.5 155.5 146.4 151.7 C144.3 147.9 145.2 149.6 143.8 144.9 C142.4 140.2 142.6 142.1 142.3 137.6 C142.0 133.1 141.9 135.4 142.9 131.4 C143.9 127.4 143.3 128.8 145.3 125.6 C147.3 122.4 146.4 123.4 149.0 121.7 C151.6 120.0 150.0 120.4 153.1 120.4 Z" fill="#e0c7b5"/>
<path d="M156.2 125.6 C157.3 124.5 158.6 124.9 160.4 125.6 C162.2 126.3 161.8 126.7 163.0 128.2 C164.2 129.7 164.4 128.9 165.0 131.4 C165.6 133.9 165.5 134.1 165.4 137.6 C165.3 141.1 165.4 140.8 164.6 144.4 C163.8 148.0 164.0 148.1 162.5 151.1 C161.0 154.1 160.8 154.1 158.9 155.8 C157.0 157.5 156.3 158.5 155.2 157.4 C154.1 156.3 154.6 154.6 154.7 151.7 C154.8 148.8 155.5 149.3 155.4 146.5 C155.3 143.7 154.3 144.3 154.4 141.2 C154.5 138.1 155.2 138.0 155.7 135.0 C156.2 132.0 156.1 132.3 156.2 129.8 C156.3 127.3 155.1 126.7 156.2 125.6 Z" fill="#b9ab97"/>
<path d="M153.1 116.2 C155.6 117.0 154.5 118.8 153.3 121.2 C152.1 123.6 152.0 121.5 149.5 123.3 C147.0 125.1 147.7 124.3 145.8 126.7 C143.9 129.1 145.0 127.8 143.8 130.6 C142.6 133.4 143.4 134.6 142.3 135.0 C141.2 135.4 140.8 135.4 140.6 131.9 C140.4 128.4 140.0 128.9 141.7 124.6 C143.4 120.3 142.0 121.7 145.8 118.9 C149.6 116.1 150.6 115.4 153.1 116.2 Z" fill="#6e4c33"/>
<path d="M153.1 116.2 C155.1 115.1 155.6 115.4 159.4 117.8 C163.2 120.2 162.2 119.2 164.6 123.5 C167.0 127.8 166.2 127.0 166.5 130.8 C166.8 134.6 166.3 135.0 165.6 135.0 C164.9 135.0 165.8 133.6 164.4 130.8 C163.0 128.0 163.9 129.2 161.5 126.7 C159.1 124.2 160.0 125.1 157.3 123.3 C154.6 121.5 154.7 123.6 153.3 121.2 C151.9 118.8 151.1 117.3 153.1 116.2 Z" fill="#5c422e"/>
<path d="M145.6 120.9 L148.4 118.5 L151.6 117.7 L153.6 119.0 M147.1 122.3 L150.5 119.9 L153.3 120.2 M153.6 121.7 L156.2 124.6 L158.5 128.8" stroke="#1e2028" stroke-width="0.9" fill="none" stroke-linecap="round"/>
<path d="M136.7 141.8 L138.3 145.4 L139.1 149.6 M139.1 141.2 L141.1 145.9 L141.7 150.6 M141.7 144.4 L143.8 149.6 L144.3 153.8 M138.3 134.5 L139.6 138.1 M166.1 145.4 L165.8 149.6 M164.4 140.2 L165.6 143.9 M166.7 132.4 L167.7 136.0" stroke="#1e2028" stroke-width="0.9" fill="none" stroke-linecap="round"/>
<path d="M138.0 145.5 L139.5 150.1 M141.8 147.0 L143.1 152.7 M161.5 149.6 L162.5 156.3 M168.1 146.0 L167.6 149.1" stroke="#1e2028" stroke-width="0.9" fill="none" stroke-linecap="round"/>
<g><circle cx="136.8" cy="136.9" r="0.51" fill="#dfe3e6"/>
<circle cx="137.4" cy="137.8" r="0.68" fill="#dfe3e6"/>
<circle cx="138.8" cy="135.4" r="0.52" fill="#dfe3e6"/>
<circle cx="139.4" cy="136.2" r="0.76" fill="#dfe3e6"/>
<circle cx="135.2" cy="135.4" r="0.42" fill="#dfe3e6"/>
<circle cx="140.4" cy="138.7" r="0.48" fill="#dfe3e6"/>
<circle cx="137.5" cy="136.8" r="0.72" fill="#dfe3e6"/>
<circle cx="139.4" cy="137.8" r="0.66" fill="#dfe3e6"/></g>
<g><circle cx="165.7" cy="125.0" r="0.32" fill="#3f2d22"/>
<circle cx="167.5" cy="141.1" r="0.34" fill="#2f221b"/>
<circle cx="171.8" cy="149.9" r="0.27" fill="#3f2d22"/>
<circle cx="168.6" cy="141.8" r="0.52" fill="#4a3628"/>
<circle cx="167.1" cy="152.1" r="0.40" fill="#3f2d22"/>
<circle cx="167.7" cy="124.8" r="0.49" fill="#2f221b"/>
<circle cx="165.5" cy="125.8" r="0.35" fill="#3f2d22"/>
<circle cx="170.4" cy="142.4" r="0.38" fill="#4a3628"/>
<circle cx="165.6" cy="150.4" r="0.43" fill="#3f2d22"/>
<circle cx="169.1" cy="138.2" r="0.52" fill="#2f221b"/>
<circle cx="167.9" cy="135.9" r="0.35" fill="#2f221b"/>
<circle cx="165.5" cy="151.4" r="0.45" fill="#4a3628"/>
<circle cx="168.6" cy="147.8" r="0.47" fill="#3f2d22"/>
<circle cx="168.8" cy="154.8" r="0.40" fill="#3f2d22"/>
<circle cx="166.1" cy="130.4" r="0.41" fill="#4a3628"/>
<circle cx="167.1" cy="133.8" r="0.42" fill="#4a3628"/>
<circle cx="168.7" cy="150.9" r="0.51" fill="#4a3628"/>
<circle cx="169.1" cy="154.9" r="0.51" fill="#4a3628"/>
<circle cx="165.0" cy="124.8" r="0.40" fill="#2f221b"/>
<circle cx="169.7" cy="158.1" r="0.46" fill="#4a3628"/>
<circle cx="165.2" cy="137.5" r="0.34" fill="#2f221b"/>
<circle cx="169.0" cy="142.2" r="0.32" fill="#3f2d22"/>
<circle cx="167.5" cy="135.8" r="0.43" fill="#2f221b"/>
<circle cx="166.5" cy="149.5" r="0.53" fill="#3f2d22"/>
<circle cx="167.2" cy="129.9" r="0.50" fill="#3f2d22"/>
<circle cx="165.7" cy="124.1" r="0.25" fill="#2f221b"/>
<circle cx="171.3" cy="140.1" r="0.42" fill="#2f221b"/>
<circle cx="171.2" cy="151.0" r="0.33" fill="#2f221b"/>
<circle cx="165.5" cy="149.5" r="0.26" fill="#3f2d22"/>
<circle cx="171.1" cy="142.7" r="0.35" fill="#3f2d22"/>
<circle cx="166.5" cy="152.1" r="0.49" fill="#2f221b"/>
<circle cx="166.0" cy="137.9" r="0.28" fill="#2f221b"/>
<circle cx="165.2" cy="139.3" r="0.31" fill="#4a3628"/>
<circle cx="168.0" cy="148.2" r="0.33" fill="#2f221b"/>
<circle cx="169.4" cy="146.5" r="0.34" fill="#4a3628"/>
<circle cx="171.0" cy="140.0" r="0.43" fill="#2f221b"/>
<circle cx="169.2" cy="155.9" r="0.37" fill="#2f221b"/>
<circle cx="164.8" cy="139.9" r="0.31" fill="#4a3628"/>
<circle cx="167.3" cy="141.4" r="0.54" fill="#2f221b"/>
<circle cx="165.1" cy="134.1" r="0.54" fill="#3f2d22"/>
<circle cx="167.8" cy="123.4" r="0.38" fill="#4a3628"/>
<circle cx="167.1" cy="158.5" r="0.37" fill="#3f2d22"/>
<circle cx="167.0" cy="142.5" r="0.43" fill="#4a3628"/>
<circle cx="168.2" cy="158.9" r="0.51" fill="#3f2d22"/>
<circle cx="171.0" cy="147.8" r="0.30" fill="#2f221b"/></g>
<g><circle cx="137.1" cy="147.3" r="0.35" fill="#8d6446"/>
<circle cx="142.4" cy="147.1" r="0.39" fill="#4a3628"/>
<circle cx="137.6" cy="152.3" r="0.49" fill="#5f4532"/>
<circle cx="140.0" cy="145.9" r="0.27" fill="#4a3628"/>
<circle cx="140.8" cy="149.3" r="0.47" fill="#4a3628"/>
<circle cx="139.7" cy="156.6" r="0.33" fill="#4a3628"/>
<circle cx="139.7" cy="145.1" r="0.33" fill="#8d6446"/>
<circle cx="140.9" cy="139.7" r="0.38" fill="#4a3628"/>
<circle cx="142.2" cy="126.1" r="0.38" fill="#4a3628"/>
<circle cx="137.6" cy="125.6" r="0.28" fill="#5f4532"/>
<circle cx="136.8" cy="134.2" r="0.48" fill="#8d6446"/>
<circle cx="143.2" cy="139.8" r="0.47" fill="#8d6446"/>
<circle cx="139.5" cy="142.6" r="0.43" fill="#5f4532"/>
<circle cx="138.2" cy="156.5" r="0.28" fill="#8d6446"/>
<circle cx="137.3" cy="133.4" r="0.49" fill="#4a3628"/>
<circle cx="139.3" cy="137.2" r="0.43" fill="#5f4532"/>
<circle cx="137.4" cy="140.9" r="0.33" fill="#8d6446"/>
<circle cx="138.7" cy="138.6" r="0.41" fill="#8d6446"/>
<circle cx="136.8" cy="148.2" r="0.28" fill="#4a3628"/>
<circle cx="141.9" cy="127.4" r="0.38" fill="#5f4532"/>
<circle cx="142.5" cy="127.4" r="0.47" fill="#4a3628"/>
<circle cx="142.2" cy="132.4" r="0.44" fill="#8d6446"/>
<circle cx="138.3" cy="131.2" r="0.45" fill="#8d6446"/>
<circle cx="141.2" cy="147.1" r="0.49" fill="#4a3628"/>
<circle cx="137.6" cy="134.0" r="0.38" fill="#5f4532"/>
<circle cx="136.3" cy="136.7" r="0.48" fill="#5f4532"/>
<circle cx="137.1" cy="142.7" r="0.31" fill="#8d6446"/>
<circle cx="137.9" cy="134.4" r="0.30" fill="#4a3628"/>
<circle cx="135.0" cy="143.0" r="0.49" fill="#8d6446"/>
<circle cx="141.1" cy="136.7" r="0.48" fill="#5f4532"/></g>
<g><circle cx="173.3" cy="150.3" r="0.48" fill="#8fa0b5"/>
<circle cx="172.7" cy="151.6" r="0.49" fill="#8fa0b5"/>
<circle cx="171.9" cy="150.7" r="0.67" fill="#8fa0b5"/>
<circle cx="172.1" cy="151.3" r="0.48" fill="#b8c4d2"/></g>
<path d="M144.1 131.6 L146.9 131.1 L149.6 131.7 M156.2 131.7 L159.2 131.1 L161.7 131.6" stroke="#3a2a22" stroke-width="0.8" fill="none"/>
<path d="M143.9 135.1 C143.8 134.2 144.8 133.8 146.9 133.9 C149.0 134.0 150.1 134.4 150.2 135.3 C150.3 136.2 149.2 136.7 147.1 136.6 C145.0 136.5 144.0 136.0 143.9 135.1 Z M156.4 135.4 C156.4 134.5 157.5 134.2 159.7 134.2 C161.9 134.2 162.9 134.4 162.9 135.3 C162.9 136.2 162.0 136.8 159.8 136.8 C157.6 136.8 156.4 136.3 156.4 135.4 Z" fill="#e9ddd2"/>
<path d="M143.9 135.1 C144.9 134.7 144.8 133.8 146.9 133.9 C149.0 134.0 149.1 134.8 150.2 135.3 M156.4 135.4 C157.5 135.0 157.5 134.2 159.7 134.2 C161.9 134.2 161.8 134.9 162.9 135.3" fill="none" stroke="#2e221d" stroke-width="0.8"/>
<ellipse cx="147.1" cy="135.3" rx="1.5" ry="1.25" fill="#3a2a24"/><ellipse cx="159.7" cy="135.5" rx="1.5" ry="1.25" fill="#3a2a24"/>
<path d="M153.3 142.5 C153.4 142.1 153.8 142.0 154.4 142.1 C155.0 142.2 155.3 142.4 155.2 142.8 C155.1 143.2 154.8 143.4 154.2 143.3 C153.6 143.2 153.2 142.9 153.3 142.5 Z" fill="#7a6355"/>
<path d="M148.3 147.3 C148.6 146.3 149.4 146.3 151.0 146.0 C152.6 145.7 151.7 146.5 153.1 146.5 C154.5 146.5 153.6 145.7 155.2 146.0 C156.8 146.3 157.7 146.2 157.9 147.3 C158.1 148.4 157.5 148.4 155.8 149.2 C154.1 150.0 154.8 149.9 152.9 149.8 C151.0 149.7 151.7 149.8 150.2 149.0 C148.7 148.2 148.0 148.3 148.3 147.3 Z" fill="#84402f"/>
</g>
</g>
<!-- Panel B -->
<g id="panelB">
<text transform="translate(203 28.3) scale(1 1.04)" font-size="22.1">B</text>
<g id="face">
<path d="M293.3 67.5 L299.2 61.7 L305 59.6 L310 59 L317.5 60 L324 62.1 L328.5 63.3 L326.7 66.4 L323.3 74 L322.9 78.1 L304.2 76.7 Z" fill="#8dc24b"/>
<path d="M328.5 63.3 L337.4 74.7 L337.2 75.5 L322.9 78.2 L323.3 74 L326.7 66.4 Z" fill="#72b77e"/>
<path d="M311.1 59.2 L317.5 60 L322.9 61.8 L337.4 82.7 Z" fill="#a5ca3b"/>
<path d="M380 66.3 L373.3 60.4 L364.2 58.8 L356.7 59.6 L350 61.7 L346.5 62.9 L348.3 66.4 L351.3 74 L351.7 78.1 L370.4 75.8 Z" fill="#8dc24b"/>
<path d="M346.5 62.9 L337.4 74.7 L337.6 75.5 L351.7 78.2 L351.3 74 L348.3 66.4 Z" fill="#72b77e"/>
<path d="M363.5 58.9 L356.7 59.6 L350.5 61.6 L337.4 82.7 Z" fill="#a5ca3b"/>
<path d="M293.3 67.5 L304.2 76.7 L299.6 85 L287.5 103.8 L285.8 97.5 L284.6 85 L284.2 77.5 Z" fill="#e98424"/>
<path d="M380 66.3 L370.4 75.8 L374.2 85 L385 104.6 L387.1 95.8 L388.3 85 L388.3 77.5 Z" fill="#e98424"/>
<path d="M287.5 105 L302.1 111.3 L303.6 117 L305.7 124.5 L308.2 135.3 L311.8 149.6 L311.8 150.8 L301.8 140.8 L295.7 132 L291.5 122 L288.8 114.2 Z" fill="#e98424"/>
<path d="M385 105 L371.3 111.3 L370.2 117 L366.8 128.7 L364.8 135.8 L361.9 149.2 L361.9 150 L371.5 141.7 L377.7 132.8 L381.8 122.8 L383.3 114.2 Z" fill="#e98424"/>
<path d="M322 143 L323.5 157.1 L337.5 159.2 L350.7 156.7 L352 143 L343.2 146.3 L337 147.3 L331 145.8 Z" fill="#fbd616"/>
<path d="M318.2 127.8 L312.3 149.6 L311.8 150.8 L323.5 157.1 L324.3 156.7 L326.8 145 L325.2 143.8 L322.7 138.3 Z" fill="#f3e229"/>
<path d="M356 127.8 L361.5 149.2 L361.9 150 L350.7 156.7 L347.3 145.8 L350.7 144.2 L352.8 136.7 Z" fill="#f3e229"/>
<path d="M335 147 L339.9 147 L337.4 157.9 Z" fill="#fff"/>
<path d="M303.6 117 L318.2 127.3 L305.3 123.7 Z" fill="#8c0f14"/>
<path d="M305.3 123.7 L318.2 127.3 L306.5 128.7 Z" fill="#64b28e"/>
<path d="M306.5 128.7 L318.2 127.3 L309 135.8 Z" fill="#8dc24b"/>
<path d="M370.2 117 L356 127.2 L368.5 123.3 Z" fill="#8c0f14"/>
<path d="M368.5 123.3 L356 127.2 L367.3 127.8 Z" fill="#64b28e"/>
<path d="M367.3 127.8 L356 127.2 L364.8 135.3 Z" fill="#8dc24b"/>
<path d="M304.2 70.6 L305.2 69 L307.3 67.6 L310 67 L317.5 67 L319.3 68 L321.2 69.6 L321.8 71.5 L322.8 72.3 L322.6 74.6 L323.6 75.6 L323.3 78.2 L322.6 79.5 L323.1 81.5 L322.3 83 L322.6 85 L321.5 86.3 L310.5 86.6 L307 85.6 L304.6 84.6 L304.1 82.5 L304.8 81 L304.1 79.3 L304.3 76.7 L304 74.5 L304.9 72.6 Z" fill="#c5202a"/>
<path d="M370.2 70.6 L369.2 69 L367.1 67.6 L364.4 67 L356.9 67 L355.1 68 L353.2 69.6 L352.6 71.5 L351.6 72.3 L351.8 74.6 L350.8 75.6 L351.1 78.2 L351.8 79.5 L351.3 81.5 L352.1 83 L351.8 85 L352.9 86.3 L363.9 86.6 L367.4 85.6 L369.8 84.6 L370.3 82.5 L369.6 81 L370.3 79.3 L370.1 76.7 L370.4 74.5 L369.5 72.6 Z" fill="#c5202a"/>
<path d="M310.5 86.6 L322.7 86.4 L320.3 94.7 L322.4 108 L324.6 121.2 L323.3 121.2 L319.2 108 L316.8 100.2 L310.5 100.2 L303.9 96.8 Z" fill="#e52d27"/>
<path d="M323.4 79.4 L324.4 79.8 L325.8 95.4 L327.2 108 L325.7 121.2 L324.6 121.2 L324.4 108 L323.3 95.4 Z" fill="#f15a29"/>
<path d="M355.6 86.2 L362.9 86.8 L370.2 97.1 L364.3 99.5 L357.4 100.2 L354.9 108 L351.2 121.2 L349.9 121.2 L351.9 108 Z" fill="#e52d27"/>
<path d="M350.8 79.4 L350 79.8 L348.7 95.4 L347.3 108 L348.3 121.2 L349.5 121.2 L350.8 108 L351.1 95.4 Z" fill="#f15a29"/>
<path d="M304.4 76.9 Q308.0 73.5 313.6 73.9 Q319.6 73.7 323.6 77.30000000000001 Q319.6 79.9 313.6 80.10000000000001 Q308.0 79.9 304.4 76.9 Z" fill="#fff"/>
<path d="M304.4 76.9 Q308.0 73.5 313.6 73.9 Q319.6 73.7 323.6 77.30000000000001" fill="none" stroke="#150a0a" stroke-width="1.05"/>
<path d="M323.6 77.30000000000001 Q319.6 79.9 313.6 80.10000000000001 Q308.0 79.9 304.4 76.9" fill="none" stroke="#3a1010" stroke-width="0.4"/>
<circle cx="313.6" cy="76.9" r="2.6" fill="#0d0507"/>
<circle cx="313.6" cy="76.9" r="0.8" fill="#3a0a10"/>
<path d="M370.2 76.8 Q364.5 73.4 360.8 73.8 Q356.9 73.6 351 77.2 Q356.9 79.8 360.8 80.0 Q364.5 79.8 370.2 76.8 Z" fill="#fff"/>
<path d="M370.2 76.8 Q364.5 73.4 360.8 73.8 Q356.9 73.6 351 77.2" fill="none" stroke="#150a0a" stroke-width="1.05"/>
<path d="M351 77.2 Q356.9 79.8 360.8 80.0 Q364.5 79.8 370.2 76.8" fill="none" stroke="#3a1010" stroke-width="0.4"/>
<circle cx="360.8" cy="76.8" r="2.6" fill="#0d0507"/>
<circle cx="360.8" cy="76.8" r="0.8" fill="#3a0a10"/>
<path d="M337.3 111.6 L318.2 127.2 L322.1 138.3 L322.7 138.3 L325.2 143.8 L331 145.8 L337 147.3 L343.2 146.3 L350.7 144.2 L352.8 136.7 L356 127.2 Z" fill="#8c0f14"/>
<path d="M318.3 127.2 Q321.5 125 325 122.9 Q329 120.4 331.7 120.5 Q334.5 120.4 337.3 121.6 Q340 120.4 342.5 120.5 Q345.5 120.4 349.2 122.9 Q353 125 355.9 127.2 Q352 130.8 351.7 130.8 Q345 135.4 337.3 135.5 Q330 135.4 323.3 130.8 Q320 128.5 318.3 127.2 Z" fill="#fff"/>
<path d="M318.3 127.2 Q321.5 125 325 122.9 Q329 120.4 331.7 120.5 Q334.5 120.4 337.3 121.6 Q340 120.4 342.5 120.5 Q345.5 120.4 349.2 122.9 Q353 125 355.9 127.2" fill="none" stroke="#1a0608" stroke-width="0.7"/>
<path d="M355.9 127.2 Q352 130.8 351.7 130.8 Q345 135.4 337.3 135.5 Q330 135.4 323.3 130.8 Q320 128.5 318.3 127.2" fill="none" stroke="#140506" stroke-width="0.85"/>
<path d="M318.3 127.1 Q328 125.9 337.3 125.7 Q347 125.9 355.9 127.1 M318.3 127.3 Q328 128.2 337.3 128.6 Q347 128.2 355.9 127.3" fill="none" stroke="#111" stroke-width="0.6"/>
<path d="M337.3 74.6 V100.7" fill="none" stroke="#3d3d3f" stroke-width="0.8"/>
<path d="M327.1 108.3 Q332 110.6 337.3 111.2 Q342.6 110.6 347.5 108.3" fill="none" stroke="#1a1a1a" stroke-width="0.65"/>
<path d="M328.3 63.3 L324 62.1 L317.5 60 L310 59 L305 59.6 L299.2 61.7 L293.3 67.5" fill="none" stroke="#231f20" stroke-width="0.85" stroke-linejoin="round"/>
<path d="M346.7 62.9 L350 61.7 L356.7 59.6 L364.2 58.8 L373.3 60.4 L380 66.3" fill="none" stroke="#231f20" stroke-width="0.85" stroke-linejoin="round"/>
<path d="M284.2 77.5 L284.6 85 L285.8 97.5 L287.1 105 L288.8 114.2 L291.5 122 L295.7 132 L301.8 140.8 L311.8 150.8 L323.5 157.1 L337.5 159.2 L350.7 156.7 L361.9 150 L371.5 141.7 L377.7 132.8 L381.8 122.8 L383.3 114.2 L385 105 L387.1 95.8 L388.3 85 L388.3 77.5" fill="none" stroke="#231f20" stroke-width="0.85" stroke-linejoin="round"/>
</g>
<!-- AU labels -->
<g font-size="11.1">
<text transform="translate(234.2 72.9) scale(1 1.04)">AU5</text>
<text transform="translate(234.2 83.4) scale(1 1.04)">AU7</text>
<text transform="translate(234.2 94.1) scale(1 1.04)">AU6</text>
<text transform="translate(226 108.5) scale(1 1.04)">AU9/10</text>
<text transform="translate(221 125.6) scale(1 1.04)">AU11/12</text>
<text transform="translate(233.9 135.7) scale(1 1.04)">AU26</text>
<text transform="translate(233.9 143.9) scale(1 1.04)">AU25</text>
</g>
<path d="M265.6 71.2 H308 M265.6 82.1 H306 M265.6 89.9 H308 M265.6 104.5 H317 M265.6 122.1 H307.5 M265.6 132.2 H300.5 M265.6 140 H323.5" fill="none" stroke="#2e2a2b" stroke-width="1.15"/>
<g fill="#231f20">
<path d="M306.6 69.2 L310.3 71.2 L306.6 73.2 Z"/>
<path d="M304.6 80.1 L308.3 82.1 L304.6 84.1 Z"/>
<path d="M306.4 87.9 L310.1 89.9 L306.4 91.9 Z"/>
<path d="M315.4 102.5 L319.1 104.5 L315.4 106.5 Z"/>
<path d="M305.9 120.1 L309.6 122.1 L305.9 124.1 Z"/>
<path d="M299.1 130.2 L302.8 132.2 L299.1 134.2 Z"/>
<path d="M321.9 138 L325.6 140 L321.9 142 Z"/>
</g>
<!-- colorbar -->
<defs><linearGradient id="jet" x1="0" y1="0" x2="0" y2="1">
<stop offset="0" stop-color="#8b1a2b"/><stop offset="0.04" stop-color="#a81c2c"/><stop offset="0.105" stop-color="#dc2036"/><stop offset="0.193" stop-color="#e8452a"/><stop offset="0.262" stop-color="#f08a22"/><stop offset="0.344" stop-color="#fcc018"/><stop offset="0.384" stop-color="#f5e21a"/><stop offset="0.439" stop-color="#b5cc2a"/><stop offset="0.494" stop-color="#80b840"/><stop offset="0.563" stop-color="#60b070"/><stop offset="0.617" stop-color="#45b0b8"/><stop offset="0.663" stop-color="#38a8e0"/><stop offset="0.727" stop-color="#3a80c8"/><stop offset="0.782" stop-color="#3a68b8"/><stop offset="0.85" stop-color="#3a52a8"/><stop offset="1" stop-color="#2c3a8e"/>
</linearGradient></defs>
<rect x="408.4" y="62.6" width="9.6" height="91" fill="url(#jet)" stroke="#1a1a2a" stroke-width="0.5"/>
<text transform="translate(421.2 68) scale(1 1.04)" font-size="11.1">0.5</text>
<text transform="translate(419.6 157) scale(1 1.04)" font-size="11.1">-0.5</text>
<text transform="translate(437.2 81.8) rotate(90) scale(1 1.04)" font-size="11.4">Expression</text>
<text transform="translate(424.1 83) rotate(90) scale(1 1.04)" font-size="11.1" font-style="italic">Cohen’s d</text>
<text transform="translate(399.6 111.8) rotate(-90) scale(1 0.93)" font-size="8.7">Momentary Pain</text>
<text transform="translate(399.6 155.2) rotate(-90) scale(1 0.93)" font-size="8.7">Neutral</text>
<path d="M403.7 65.5 V95.8 M403.7 121.4 V152" fill="none" stroke="#2e2a2b" stroke-width="1"/>
<path d="M401.9 66.6 L403.7 63.2 L405.5 66.6 Z M401.9 150.9 L403.7 154.3 L405.5 150.9 Z" fill="#231f20"/>
</g>
<!-- Panel C -->
<g id="panelC">
<text transform="translate(443.2 28.3) scale(1 1.04)" font-size="22.9">C</text>
<text transform="translate(484.3 80) rotate(-90) scale(1 1.04)" font-size="10.4">Self-Report Pain</text>
<text transform="translate(496.5 83.4) rotate(-90) scale(1 1.04)" font-size="10.4">Informed Features</text>
<text transform="translate(486.3 182.6) rotate(-90) scale(1 1.04)" font-size="10.4">Optimized Features</text>
<g>
<rect x="514.9" y="2.9" width="8.4" height="74" fill="#231f20"/>
<rect x="515.2" y="103" width="8.8" height="73.8" fill="#231f20"/>
<rect x="496.8" y="103" width="8.9" height="73.8" fill="#231f20"/>
</g>
<g id="cells">
<rect x="515.9" y="4.2" width="6.40" height="4.70" fill="#fff"/>
<rect x="515.9" y="17.2" width="6.40" height="5.20" fill="#fff"/>
<rect x="515.9" y="36.5" width="6.40" height="5.30" fill="#fff"/>
<rect x="515.9" y="49.6" width="6.40" height="5.70" fill="#fff"/>
<rect x="515.9" y="56.4" width="6.40" height="5.20" fill="#fff"/>
<rect x="515.9" y="69.4" width="6.40" height="6.70" fill="#fff"/>
<rect x="515.9" y="55.3" width="6.4" height="1.1" fill="#8a8a8a"/>
<rect x="515.9" y="110" width="7.40" height="5.90" fill="#fff"/>
<rect x="515.9" y="117" width="7.40" height="5.80" fill="#fff"/>
<rect x="515.9" y="130.1" width="7.40" height="5.60" fill="#fff"/>
<rect x="515.9" y="142.7" width="7.40" height="6.20" fill="#fff"/>
<rect x="515.9" y="150" width="7.40" height="5.70" fill="#fff"/>
<rect x="515.9" y="168.7" width="7.40" height="7.30" fill="#fff"/>
</g>
<path d="M532 93.9 H555" fill="none" stroke="#231f20" stroke-width="1.05"/>
<path d="M505.5 139.1 H513" fill="none" stroke="#231f20" stroke-width="0.9"/>
<path d="M554 89.1 L562.5 93.9 L554 98.7 Z M512.2 137.2 L515.8 139.1 L512.2 141 Z" fill="#231f20"/>
<rect x="568.9" y="38" width="115.3" height="112.3" fill="#e2e2e2" stroke="#2b2728" stroke-width="1.2"/>
<text transform="translate(592 47.9) scale(1 1.04)" font-size="8.5">Logistic Regression</text>
<text transform="translate(641.4 64.4) scale(1 1.04)" font-size="8.5">Momentary</text>
<text transform="translate(654.4 74.9) scale(1 1.04)" font-size="8.5">Pain</text>
<text transform="translate(604.6 129.1) scale(1 1.04)" font-size="8.5">Neutral</text>
<text transform="translate(572.3 100.8) scale(1 1.04)" font-size="20.3" style="font-family:'DejaVu Sans','Liberation Sans',sans-serif;stroke-width:0.3px">Σ</text>
<text transform="translate(587.5 100.8) skewX(-6) scale(1 1.04)" font-size="20.3" style="font-family:'DejaVu Sans','Liberation Sans',sans-serif;stroke-width:0.3px">ƒ</text>
<path d="M609.3 95.6 H676 M641.7 64.6 V131.5" fill="none" stroke="#231f20" stroke-width="1" stroke-dasharray="1.7 1.5"/>
<path d="M610.2 120.2 H623.1 Q635.4 110.4 641.7 95.2 Q647.6 80.6 652.8 67.1 H662" fill="none" stroke="#231f20" stroke-width="1.1" stroke-linejoin="miter"/>
<path d="M596.6 152.4 V159.4 H617.6 M644.6 159.4 H665.2 V152.4" fill="none" stroke="#231f20" stroke-width="1.05"/>
<text transform="translate(619.9 162.8) scale(1 1.04)" font-size="9.2">10CV</text>
</g>
<!-- Panel D -->
<g id="panelD">
<text transform="translate(2.7 215.8) scale(1 1.04)" font-size="22.1">D</text>
<path d="M24.6 380.0 L42.2 300.6 L59.7 283.5 L77.2 272.2 L94.8 264.4 L112.3 258.3 L129.9 253.3 L147.5 246.7 L165.0 241.7 L182.6 237.2 L200.1 233.0 L200.1 233.0 L182.6 241.4 L165.0 249.5 L147.5 257.3 L129.9 264.6 L112.3 273.6 L94.8 282.0 L77.2 291.6 L59.7 304.4 L42.2 320.8 L24.6 385.2 Z" fill="#ee9448" fill-opacity="0.3"/>
<path d="M24.6 363.6 L42.2 320.0 L59.7 302.2 L77.2 290.5 L94.8 277.2 L112.3 266.7 L129.9 256.1 L147.5 248.3 L165.0 242.8 L182.6 237.5 L200.1 233.0 L200.1 233.0 L182.6 239.7 L165.0 246.7 L147.5 254.6 L129.9 265.0 L112.3 278.9 L94.8 289.5 L77.2 307.0 L59.7 325.6 L42.2 343.4 L24.6 373.6 Z" fill="#1ba184" fill-opacity="0.25"/>
<path d="M24.6 372.0 L42.2 340.2 L59.7 322.5 L77.2 303.0 L94.8 287.0 L112.3 276.4 L129.9 266.7 L147.5 257.2 L165.0 248.9 L182.6 240.5 L200.1 233.0 L200.1 233.0 L182.6 243.9 L165.0 255.0 L147.5 265.6 L129.9 277.2 L112.3 287.8 L94.8 301.0 L77.2 318.3 L59.7 340.0 L42.2 354.7 L24.6 380.0 Z" fill="#4479b6" fill-opacity="0.24"/>
<path d="M25.5 384.4 L200.1 233" fill="none" stroke="#808285" stroke-width="0.9" stroke-dasharray="1 2.3"/>
<path d="M24.6 376.3 L42.2 346.9 L59.7 331.1 L77.2 310.6 L94.8 293.9 L112.3 282.2 L129.9 272.2 L147.5 261.7 L165.0 251.7 L182.6 241.7 L200.1 233.0" fill="none" stroke="#4479b6" stroke-width="1.1" stroke-linejoin="round"/>
<path d="M24.6 385.0 L42.2 310.6 L59.7 293.9 L77.2 281.7 L94.8 272.8 L112.3 265.6 L129.9 258.9 L147.5 252.5 L165.0 245.8 L182.6 239.4 L200.1 233.0" fill="none" stroke="#e8873a" stroke-width="1.1" stroke-linejoin="round"/>
<path d="M24.6 370.2 L42.2 331.7 L59.7 313.9 L77.2 298.5 L94.8 282.2 L112.3 272.8 L129.9 260.0 L147.5 251.7 L165.0 244.8 L182.6 238.6 L200.1 233.0" fill="none" stroke="#1ba184" stroke-width="1.1" stroke-linejoin="round"/>
<path d="M27 233 H24.6 V385.2 H200.6 M24.6 309.4 H27" fill="none" stroke="#231f20" stroke-width="1"/>
<text transform="translate(9.3 237) scale(1 1.04)" font-size="10">1.0</text>
<text transform="translate(10.5 312.7) scale(1 1.04)" font-size="10">0.5</text>
<text transform="translate(17.6 389.2) scale(1 1.04)" font-size="10">0</text>
<text transform="translate(22.8 396.6) scale(1 1.04)" font-size="10">0</text>
<text transform="translate(105.5 396.6) scale(1 1.04)" font-size="10">0.5</text>
<text transform="translate(194.8 396.6) scale(1 1.04)" font-size="10">1.0</text>
<text transform="translate(81.3 406.5) scale(1 1.04)" font-size="9.76">False Positive Rate</text>
<text transform="translate(7 340.2) rotate(-90) scale(1 1.04)" font-size="9.75">True Positive Rate</text>
<text transform="translate(200 361.9) scale(1 1.04)" font-size="10.5" text-anchor="end" style="fill:#e8833a;stroke:#e8833a">Optimized 0.75 ± 0.13</text>
<text transform="translate(199.7 372.8) scale(1 1.04)" font-size="10.5" text-anchor="end" style="fill:#1ba184;stroke:#1ba184">Self-Report Informed 0.71 ± 0.10</text>
<text transform="translate(199.7 383.9) scale(1 1.04)" font-size="10.5" text-anchor="end" style="fill:#4479b6;stroke:#4479b6">Self-Report Shuffled 0.63 ± 0.10</text>
</g>
<!-- Panel E -->
<g id="panelE">
<text transform="translate(201.2 215.8) scale(1 1.04)" font-size="22.1">E</text>
<rect x="286.1" y="271.2" width="33.3" height="114.3" fill="#e87e26" stroke="#5f4a3a" stroke-width="0.6"/>
<rect x="327.4" y="278.3" width="33.3" height="107.2" fill="#10a082" stroke="#2a5a50" stroke-width="0.6"/>
<rect x="369.4" y="289.1" width="33" height="96.4" fill="#447eb8" stroke="#3a4f6a" stroke-width="0.6"/>
<path d="M261 309.5 H426" fill="none" stroke="#231f20" stroke-width="0.9" stroke-dasharray="1 2.3"/>
<path d="M302.9 264.4 V277.5 M301.9 264.4 H303.9 M301.9 277.5 H303.9 M344.2 272.7 V283.8 M343.2 272.7 H345.2 M343.2 283.8 H345.2 M385.7 280 V290.4 M384.7 280 H386.7 M384.7 290.4 H386.7" fill="none" stroke="#58595b" stroke-width="0.5"/>
<g fill="none" stroke="#111" stroke-width="2.1" stroke-linejoin="round">
<path d="M302.9 239.4 L344.1 245.0 L385.6 262.9"/>
<path d="M302.9 259.2 L344.1 269.6 L385.6 281.0"/>
<path d="M302.9 271.7 L344.1 271.7 L385.6 271.7"/>
<path d="M302.9 264.4 L344.1 270.6 L385.6 284.2"/>
<path d="M302.9 267.5 L344.1 274.8 L385.6 296.7"/>
<path d="M302.9 273.8 L344.1 289.4 L385.6 289.4"/>
<path d="M302.9 269.6 L344.1 289.4 L385.6 281.0"/>
<path d="M302.9 274.8 L344.1 280.0 L385.6 312.3"/>
<path d="M302.9 295.0 L344.1 299.8 L385.6 302.9"/>
<path d="M302.9 310.6 L344.1 294.6 L385.6 306.0"/>
</g>
<path d="M302.9 235.6 V230.8 H344.4 V235.6 M348.9 224.8 V220 H386.1 V224.8" fill="none" stroke="#231f20" stroke-width="1"/>
<text transform="translate(316.3 228.2) scale(1 1.04)" font-size="11.2">n.s.</text>
<text transform="translate(365.6 220.6) scale(1 1.04)" font-size="10">*</text>
<path d="M255 233.5 H252.8 V385.5 H436 M252.8 309.5 H255 M302.9 385.5 V383.2 M344.2 385.5 V383.2 M385.7 385.5 V383.2" fill="none" stroke="#231f20" stroke-width="1"/>
<text transform="translate(245.1 236.5) scale(1 1.04)" font-size="10">1</text>
<text transform="translate(237.6 313) scale(1 1.04)" font-size="10">0.5</text>
<text transform="translate(245.8 388) scale(1 1.04)" font-size="10">0</text>
<text transform="translate(235.9 363.3) rotate(-90) scale(1 1.04)" font-size="9.8">Model Performance (AUC)</text>
<text transform="translate(305 390.5) rotate(-45) scale(1 1.04)" font-size="9.7" text-anchor="end">Optimized</text>
<text transform="translate(345.5 391.5) rotate(-45) scale(1 1.04)" font-size="9.7" text-anchor="end">Self-Report</text>
<text transform="translate(350.5 402.5) rotate(-45) scale(1 1.04)" font-size="9.7" text-anchor="end">Informed</text>
<text transform="translate(388.5 394.5) rotate(-45) scale(1 1.04)" font-size="9.7" text-anchor="end">Self-Report</text>
<text transform="translate(391.5 407) rotate(-45) scale(1 1.04)" font-size="9.7" text-anchor="end">Shuffled</text>
</g>
<!-- Panel F -->
<g id="panelF">
<text transform="translate(444.6 215.8) scale(1 1.04)" font-size="22.1">F</text>
<path d="M500.7 382.4 L675.9 229.8" fill="none" stroke="#808285" stroke-width="0.9" stroke-dasharray="1 2.5"/>
<path d="M526.5 347.4 L664.6 269.1" fill="none" stroke="#231f20" stroke-width="1.2"/>
<g fill="#231f20"><circle cx="526.5" cy="327.8" r="2.25"/><circle cx="557.6" cy="359.6" r="2.25"/><circle cx="602" cy="344.8" r="2.25"/><circle cx="625.7" cy="340.2" r="2.25"/><circle cx="615" cy="311.5" r="2.25"/><circle cx="619.3" cy="301.1" r="2.25"/><circle cx="602.2" cy="286.8" r="2.25"/><circle cx="602.9" cy="253.75" r="2.25"/><circle cx="616.1" cy="263.2" r="2.25"/><circle cx="664" cy="251.25" r="2.25"/></g>
<path d="M502.7 229.8 H500.4 V382.7 H675.9 V380.4 M500.4 255.3 h2.3 M646.6 382.7 v-2.3 M500.4 280.8 h2.3 M617.4 382.7 v-2.3 M500.4 306.3 h2.3 M588.1 382.7 v-2.3 M500.4 331.7 h2.3 M558.9 382.7 v-2.3 M500.4 357.2 h2.3 M529.6 382.7 v-2.3" fill="none" stroke="#231f20" stroke-width="1.05"/>
<g font-size="10" text-anchor="end">
<text transform="translate(499.2 233.1) scale(1 1.04)">1</text>
<text transform="translate(499.2 258.6) scale(1 1.04)">.9</text>
<text transform="translate(499.2 284.1) scale(1 1.04)">.8</text>
<text transform="translate(499.2 309.6) scale(1 1.04)">.7</text>
<text transform="translate(499.2 335.0) scale(1 1.04)">.6</text>
<text transform="translate(499.2 360.5) scale(1 1.04)">.5</text>
<text transform="translate(499.2 385.8) scale(1 1.04)">.4</text>
</g>
<g font-size="10" text-anchor="middle">
<text transform="translate(499.1 392.2) scale(1 1.04)">.4</text>
<text transform="translate(528.4 392.2) scale(1 1.04)">.5</text>
<text transform="translate(557.6 392.2) scale(1 1.04)">.6</text>
<text transform="translate(586.9 392.2) scale(1 1.04)">.7</text>
<text transform="translate(616.1 392.2) scale(1 1.04)">.8</text>
<text transform="translate(645.4 392.2) scale(1 1.04)">.9</text>
<text transform="translate(675.4 392.2) scale(1 1.04)">1</text>
</g>
<text transform="translate(511 402.2) scale(1 1.04)" font-size="9.8">Decoding Using Brain Activity (AUC)</text>
<text transform="translate(485.6 391.2) rotate(-90) scale(1 1.04)" font-size="9.7">Decoding Using Face Behavior (AUC)</text>
<text transform="translate(504.5 235.8) scale(1 1.04)" font-size="9.9">R = 0.54</text>
<text transform="translate(504.5 247.4) scale(1 1.04)" font-size="9.9">P = .10</text>
</g>

</svg>
</body></html>
